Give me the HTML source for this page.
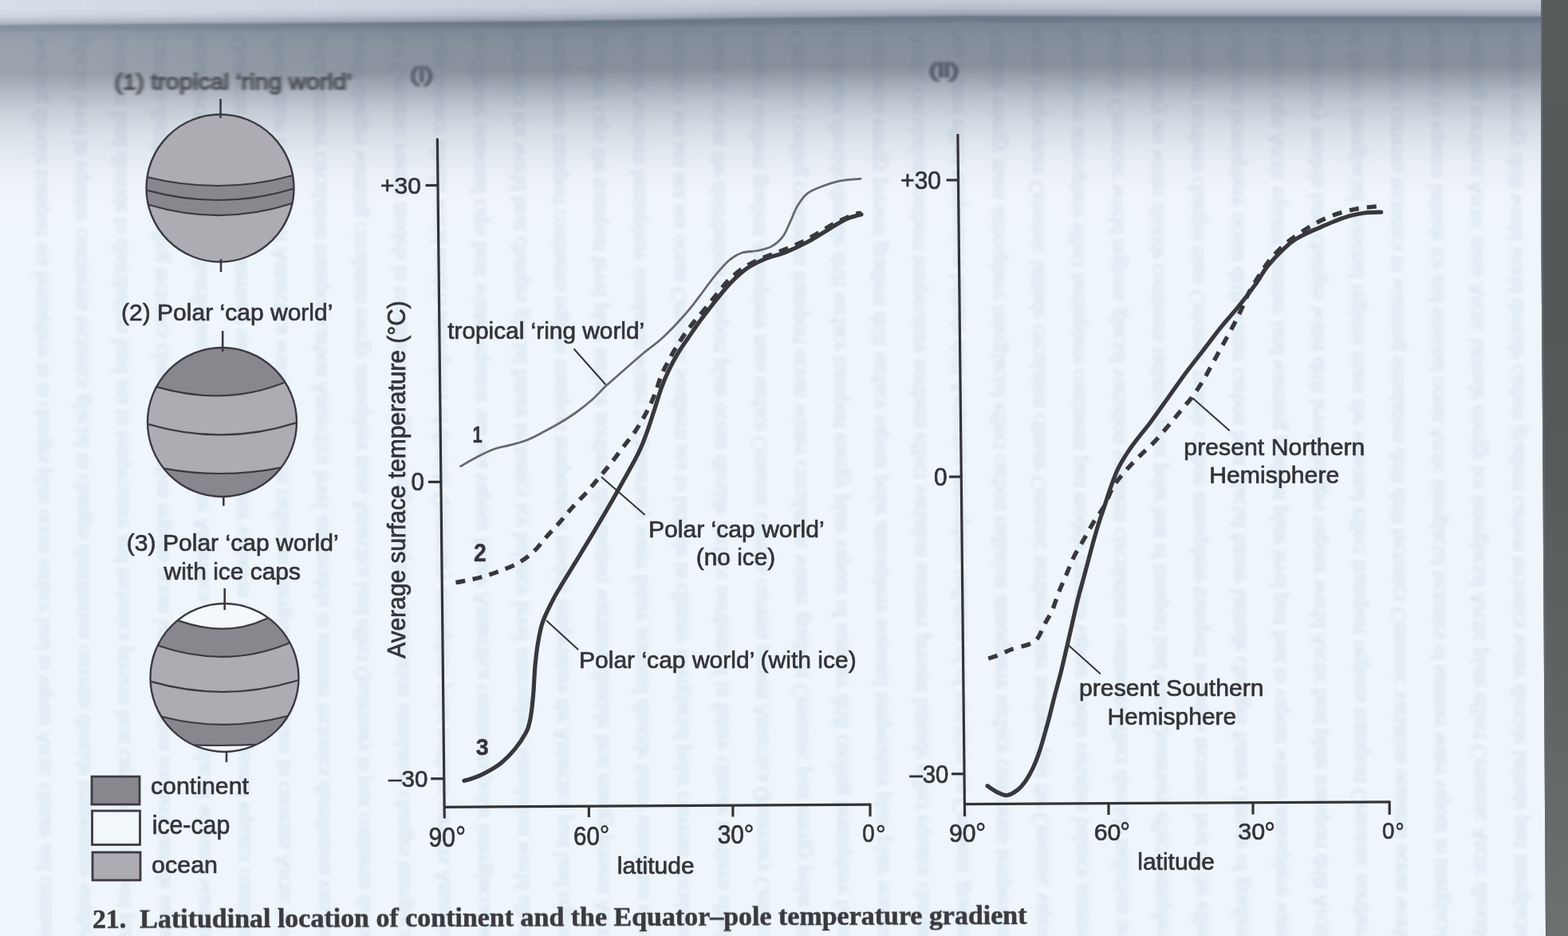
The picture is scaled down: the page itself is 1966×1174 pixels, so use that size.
<!DOCTYPE html>
<html><head><meta charset="utf-8"><title>Latitudinal location of continent and the Equator-pole temperature gradient</title>
<style>html,body{margin:0;padding:0;width:1966px;height:1174px;overflow:hidden;background:#eff6fb}svg{display:block}</style>
</head><body>
<svg width="1966" height="1174" viewBox="0 0 1966 1174">
<defs>
<filter id="bleedblur" x="-50%" y="-5%" width="200%" height="110%"><feGaussianBlur stdDeviation="2.0"/></filter>
<filter id="blur1" x="-5%" y="-30%" width="110%" height="160%"><feGaussianBlur stdDeviation="2.0 0.9"/></filter>
<filter id="blur2" x="-20%" y="-30%" width="140%" height="160%"><feGaussianBlur stdDeviation="1.6"/></filter>
<linearGradient id="band" x1="0" y1="0" x2="0" y2="280" gradientUnits="userSpaceOnUse">
 <stop offset="0" stop-color="#c4ccd8"/>
 <stop offset="0.035" stop-color="#b6bece"/>
 <stop offset="0.062" stop-color="#9aa2b2"/>
 <stop offset="0.075" stop-color="#6c7688"/>
 <stop offset="0.090" stop-color="#6e7a8a"/>
 <stop offset="0.11" stop-color="#7c8696"/>
 <stop offset="0.16" stop-color="#848e9a"/>
 <stop offset="0.29" stop-color="#88909c"/>
 <stop offset="0.343" stop-color="#9aa2ae"/>
 <stop offset="0.393" stop-color="#abb3bf"/>
 <stop offset="0.446" stop-color="#bcc4ce"/>
 <stop offset="0.55" stop-color="#d2dae3"/>
 <stop offset="0.65" stop-color="#e0e7ee"/>
 <stop offset="0.74" stop-color="#e9eff5"/>
 <stop offset="0.85" stop-color="#eef4f9"/>
 <stop offset="1" stop-color="#eff6fb" stop-opacity="0"/>
</linearGradient>
<linearGradient id="strip" x1="0" y1="0" x2="0" y2="1174" gradientUnits="userSpaceOnUse">
 <stop offset="0" stop-color="#575b5b"/>
 <stop offset="0.3" stop-color="#525656"/>
 <stop offset="0.5" stop-color="#555a5a"/>
 <stop offset="0.8" stop-color="#616666"/>
 <stop offset="1" stop-color="#6c7070"/>
</linearGradient>
<linearGradient id="leftlight" x1="0" y1="0" x2="650" y2="0" gradientUnits="userSpaceOnUse">
 <stop offset="0" stop-color="#f2f7fc" stop-opacity="0.2"/>
 <stop offset="0.35" stop-color="#f2f7fc" stop-opacity="0.12"/>
 <stop offset="0.75" stop-color="#f2f7fc" stop-opacity="0.04"/>
 <stop offset="1" stop-color="#f2f7fc" stop-opacity="0"/>
</linearGradient>
<linearGradient id="topleft" x1="0" y1="0" x2="1000" y2="0" gradientUnits="userSpaceOnUse">
 <stop offset="0" stop-color="#eef4fc" stop-opacity="0.3"/>
 <stop offset="0.3" stop-color="#eef4fc" stop-opacity="0.22"/>
 <stop offset="0.6" stop-color="#eef4fc" stop-opacity="0.1"/>
 <stop offset="1" stop-color="#eef4fc" stop-opacity="0"/>
</linearGradient>
<linearGradient id="topfadeg" x1="0" y1="-60" x2="0" y2="21" gradientUnits="userSpaceOnUse">
 <stop offset="0" stop-color="#fff"/>
 <stop offset="0.8" stop-color="#fff"/>
 <stop offset="1" stop-color="#000"/>
</linearGradient>
<mask id="topfade" maskUnits="userSpaceOnUse" x="-60" y="-70" width="1200" height="100"><rect x="-60" y="-70" width="1200" height="100" fill="url(#topfadeg)"/></mask>
<clipPath id="bleedclip"><rect x="0" y="0" width="1928" height="1174"/></clipPath>
<clipPath id="g1"><circle cx="276" cy="236" r="92.5"/></clipPath>
<clipPath id="g2"><circle cx="278.5" cy="529.5" r="93.5"/></clipPath>
<clipPath id="g3"><circle cx="281.5" cy="850" r="93"/></clipPath>
</defs>
<rect x="0" y="0" width="1966" height="1174" fill="#eff6fb"/>
<g>
<g transform="translate(0 11.94)" shape-rendering="crispEdges"><rect x="0" y="-60" width="12" height="340" fill="url(#band)"/><rect x="0" y="-60" width="12" height="60" fill="#c4ccd8"/></g>
<g transform="translate(0 11.82)" shape-rendering="crispEdges"><rect x="12" y="-60" width="12" height="340" fill="url(#band)"/><rect x="12" y="-60" width="12" height="60" fill="#c4ccd8"/></g>
<g transform="translate(0 11.70)" shape-rendering="crispEdges"><rect x="24" y="-60" width="12" height="340" fill="url(#band)"/><rect x="24" y="-60" width="12" height="60" fill="#c4ccd8"/></g>
<g transform="translate(0 11.58)" shape-rendering="crispEdges"><rect x="36" y="-60" width="12" height="340" fill="url(#band)"/><rect x="36" y="-60" width="12" height="60" fill="#c4ccd8"/></g>
<g transform="translate(0 11.46)" shape-rendering="crispEdges"><rect x="48" y="-60" width="12" height="340" fill="url(#band)"/><rect x="48" y="-60" width="12" height="60" fill="#c4ccd8"/></g>
<g transform="translate(0 11.34)" shape-rendering="crispEdges"><rect x="60" y="-60" width="12" height="340" fill="url(#band)"/><rect x="60" y="-60" width="12" height="60" fill="#c4ccd8"/></g>
<g transform="translate(0 11.22)" shape-rendering="crispEdges"><rect x="72" y="-60" width="12" height="340" fill="url(#band)"/><rect x="72" y="-60" width="12" height="60" fill="#c4ccd8"/></g>
<g transform="translate(0 11.10)" shape-rendering="crispEdges"><rect x="84" y="-60" width="12" height="340" fill="url(#band)"/><rect x="84" y="-60" width="12" height="60" fill="#c4ccd8"/></g>
<g transform="translate(0 10.99)" shape-rendering="crispEdges"><rect x="96" y="-60" width="12" height="340" fill="url(#band)"/><rect x="96" y="-60" width="12" height="60" fill="#c4ccd8"/></g>
<g transform="translate(0 10.93)" shape-rendering="crispEdges"><rect x="108" y="-60" width="12" height="340" fill="url(#band)"/><rect x="108" y="-60" width="12" height="60" fill="#c4ccd8"/></g>
<g transform="translate(0 10.87)" shape-rendering="crispEdges"><rect x="120" y="-60" width="12" height="340" fill="url(#band)"/><rect x="120" y="-60" width="12" height="60" fill="#c4ccd8"/></g>
<g transform="translate(0 10.81)" shape-rendering="crispEdges"><rect x="132" y="-60" width="12" height="340" fill="url(#band)"/><rect x="132" y="-60" width="12" height="60" fill="#c4ccd8"/></g>
<g transform="translate(0 10.75)" shape-rendering="crispEdges"><rect x="144" y="-60" width="12" height="340" fill="url(#band)"/><rect x="144" y="-60" width="12" height="60" fill="#c4ccd8"/></g>
<g transform="translate(0 10.69)" shape-rendering="crispEdges"><rect x="156" y="-60" width="12" height="340" fill="url(#band)"/><rect x="156" y="-60" width="12" height="60" fill="#c4ccd8"/></g>
<g transform="translate(0 10.63)" shape-rendering="crispEdges"><rect x="168" y="-60" width="12" height="340" fill="url(#band)"/><rect x="168" y="-60" width="12" height="60" fill="#c4ccd8"/></g>
<g transform="translate(0 10.57)" shape-rendering="crispEdges"><rect x="180" y="-60" width="12" height="340" fill="url(#band)"/><rect x="180" y="-60" width="12" height="60" fill="#c4ccd8"/></g>
<g transform="translate(0 10.51)" shape-rendering="crispEdges"><rect x="192" y="-60" width="12" height="340" fill="url(#band)"/><rect x="192" y="-60" width="12" height="60" fill="#c4ccd8"/></g>
<g transform="translate(0 10.45)" shape-rendering="crispEdges"><rect x="204" y="-60" width="12" height="340" fill="url(#band)"/><rect x="204" y="-60" width="12" height="60" fill="#c4ccd8"/></g>
<g transform="translate(0 10.39)" shape-rendering="crispEdges"><rect x="216" y="-60" width="12" height="340" fill="url(#band)"/><rect x="216" y="-60" width="12" height="60" fill="#c4ccd8"/></g>
<g transform="translate(0 10.33)" shape-rendering="crispEdges"><rect x="228" y="-60" width="12" height="340" fill="url(#band)"/><rect x="228" y="-60" width="12" height="60" fill="#c4ccd8"/></g>
<g transform="translate(0 10.27)" shape-rendering="crispEdges"><rect x="240" y="-60" width="12" height="340" fill="url(#band)"/><rect x="240" y="-60" width="12" height="60" fill="#c4ccd8"/></g>
<g transform="translate(0 10.21)" shape-rendering="crispEdges"><rect x="252" y="-60" width="12" height="340" fill="url(#band)"/><rect x="252" y="-60" width="12" height="60" fill="#c4ccd8"/></g>
<g transform="translate(0 10.15)" shape-rendering="crispEdges"><rect x="264" y="-60" width="12" height="340" fill="url(#band)"/><rect x="264" y="-60" width="12" height="60" fill="#c4ccd8"/></g>
<g transform="translate(0 10.09)" shape-rendering="crispEdges"><rect x="276" y="-60" width="12" height="340" fill="url(#band)"/><rect x="276" y="-60" width="12" height="60" fill="#c4ccd8"/></g>
<g transform="translate(0 10.03)" shape-rendering="crispEdges"><rect x="288" y="-60" width="12" height="340" fill="url(#band)"/><rect x="288" y="-60" width="12" height="60" fill="#c4ccd8"/></g>
<g transform="translate(0 9.95)" shape-rendering="crispEdges"><rect x="300" y="-60" width="12" height="340" fill="url(#band)"/><rect x="300" y="-60" width="12" height="60" fill="#c4ccd8"/></g>
<g transform="translate(0 9.86)" shape-rendering="crispEdges"><rect x="312" y="-60" width="12" height="340" fill="url(#band)"/><rect x="312" y="-60" width="12" height="60" fill="#c4ccd8"/></g>
<g transform="translate(0 9.77)" shape-rendering="crispEdges"><rect x="324" y="-60" width="12" height="340" fill="url(#band)"/><rect x="324" y="-60" width="12" height="60" fill="#c4ccd8"/></g>
<g transform="translate(0 9.68)" shape-rendering="crispEdges"><rect x="336" y="-60" width="12" height="340" fill="url(#band)"/><rect x="336" y="-60" width="12" height="60" fill="#c4ccd8"/></g>
<g transform="translate(0 9.59)" shape-rendering="crispEdges"><rect x="348" y="-60" width="12" height="340" fill="url(#band)"/><rect x="348" y="-60" width="12" height="60" fill="#c4ccd8"/></g>
<g transform="translate(0 9.50)" shape-rendering="crispEdges"><rect x="360" y="-60" width="12" height="340" fill="url(#band)"/><rect x="360" y="-60" width="12" height="60" fill="#c4ccd8"/></g>
<g transform="translate(0 9.41)" shape-rendering="crispEdges"><rect x="372" y="-60" width="12" height="340" fill="url(#band)"/><rect x="372" y="-60" width="12" height="60" fill="#c4ccd8"/></g>
<g transform="translate(0 9.32)" shape-rendering="crispEdges"><rect x="384" y="-60" width="12" height="340" fill="url(#band)"/><rect x="384" y="-60" width="12" height="60" fill="#c4ccd8"/></g>
<g transform="translate(0 9.23)" shape-rendering="crispEdges"><rect x="396" y="-60" width="12" height="340" fill="url(#band)"/><rect x="396" y="-60" width="12" height="60" fill="#c4ccd8"/></g>
<g transform="translate(0 9.14)" shape-rendering="crispEdges"><rect x="408" y="-60" width="12" height="340" fill="url(#band)"/><rect x="408" y="-60" width="12" height="60" fill="#c4ccd8"/></g>
<g transform="translate(0 9.05)" shape-rendering="crispEdges"><rect x="420" y="-60" width="12" height="340" fill="url(#band)"/><rect x="420" y="-60" width="12" height="60" fill="#c4ccd8"/></g>
<g transform="translate(0 8.96)" shape-rendering="crispEdges"><rect x="432" y="-60" width="12" height="340" fill="url(#band)"/><rect x="432" y="-60" width="12" height="60" fill="#c4ccd8"/></g>
<g transform="translate(0 8.88)" shape-rendering="crispEdges"><rect x="444" y="-60" width="12" height="340" fill="url(#band)"/><rect x="444" y="-60" width="12" height="60" fill="#c4ccd8"/></g>
<g transform="translate(0 8.79)" shape-rendering="crispEdges"><rect x="456" y="-60" width="12" height="340" fill="url(#band)"/><rect x="456" y="-60" width="12" height="60" fill="#c4ccd8"/></g>
<g transform="translate(0 8.70)" shape-rendering="crispEdges"><rect x="468" y="-60" width="12" height="340" fill="url(#band)"/><rect x="468" y="-60" width="12" height="60" fill="#c4ccd8"/></g>
<g transform="translate(0 8.61)" shape-rendering="crispEdges"><rect x="480" y="-60" width="12" height="340" fill="url(#band)"/><rect x="480" y="-60" width="12" height="60" fill="#c4ccd8"/></g>
<g transform="translate(0 8.52)" shape-rendering="crispEdges"><rect x="492" y="-60" width="12" height="340" fill="url(#band)"/><rect x="492" y="-60" width="12" height="60" fill="#c4ccd8"/></g>
<g transform="translate(0 8.43)" shape-rendering="crispEdges"><rect x="504" y="-60" width="12" height="340" fill="url(#band)"/><rect x="504" y="-60" width="12" height="60" fill="#c4ccd8"/></g>
<g transform="translate(0 8.34)" shape-rendering="crispEdges"><rect x="516" y="-60" width="12" height="340" fill="url(#band)"/><rect x="516" y="-60" width="12" height="60" fill="#c4ccd8"/></g>
<g transform="translate(0 8.25)" shape-rendering="crispEdges"><rect x="528" y="-60" width="12" height="340" fill="url(#band)"/><rect x="528" y="-60" width="12" height="60" fill="#c4ccd8"/></g>
<g transform="translate(0 8.16)" shape-rendering="crispEdges"><rect x="540" y="-60" width="12" height="340" fill="url(#band)"/><rect x="540" y="-60" width="12" height="60" fill="#c4ccd8"/></g>
<g transform="translate(0 8.07)" shape-rendering="crispEdges"><rect x="552" y="-60" width="12" height="340" fill="url(#band)"/><rect x="552" y="-60" width="12" height="60" fill="#c4ccd8"/></g>
<g transform="translate(0 7.98)" shape-rendering="crispEdges"><rect x="564" y="-60" width="12" height="340" fill="url(#band)"/><rect x="564" y="-60" width="12" height="60" fill="#c4ccd8"/></g>
<g transform="translate(0 7.89)" shape-rendering="crispEdges"><rect x="576" y="-60" width="12" height="340" fill="url(#band)"/><rect x="576" y="-60" width="12" height="60" fill="#c4ccd8"/></g>
<g transform="translate(0 7.80)" shape-rendering="crispEdges"><rect x="588" y="-60" width="12" height="340" fill="url(#band)"/><rect x="588" y="-60" width="12" height="60" fill="#c4ccd8"/></g>
<g transform="translate(0 7.70)" shape-rendering="crispEdges"><rect x="600" y="-60" width="12" height="340" fill="url(#band)"/><rect x="600" y="-60" width="12" height="60" fill="#c4ccd8"/></g>
<g transform="translate(0 7.61)" shape-rendering="crispEdges"><rect x="612" y="-60" width="12" height="340" fill="url(#band)"/><rect x="612" y="-60" width="12" height="60" fill="#c4ccd8"/></g>
<g transform="translate(0 7.52)" shape-rendering="crispEdges"><rect x="624" y="-60" width="12" height="340" fill="url(#band)"/><rect x="624" y="-60" width="12" height="60" fill="#c4ccd8"/></g>
<g transform="translate(0 7.43)" shape-rendering="crispEdges"><rect x="636" y="-60" width="12" height="340" fill="url(#band)"/><rect x="636" y="-60" width="12" height="60" fill="#c4ccd8"/></g>
<g transform="translate(0 7.34)" shape-rendering="crispEdges"><rect x="648" y="-60" width="12" height="340" fill="url(#band)"/><rect x="648" y="-60" width="12" height="60" fill="#c4ccd8"/></g>
<g transform="translate(0 7.25)" shape-rendering="crispEdges"><rect x="660" y="-60" width="12" height="340" fill="url(#band)"/><rect x="660" y="-60" width="12" height="60" fill="#c4ccd8"/></g>
<g transform="translate(0 7.16)" shape-rendering="crispEdges"><rect x="672" y="-60" width="12" height="340" fill="url(#band)"/><rect x="672" y="-60" width="12" height="60" fill="#c4ccd8"/></g>
<g transform="translate(0 7.07)" shape-rendering="crispEdges"><rect x="684" y="-60" width="12" height="340" fill="url(#band)"/><rect x="684" y="-60" width="12" height="60" fill="#c4ccd8"/></g>
<g transform="translate(0 6.97)" shape-rendering="crispEdges"><rect x="696" y="-60" width="12" height="340" fill="url(#band)"/><rect x="696" y="-60" width="12" height="60" fill="#c4ccd8"/></g>
<g transform="translate(0 6.78)" shape-rendering="crispEdges"><rect x="708" y="-60" width="12" height="340" fill="url(#band)"/><rect x="708" y="-60" width="12" height="60" fill="#c4ccd8"/></g>
<g transform="translate(0 6.58)" shape-rendering="crispEdges"><rect x="720" y="-60" width="12" height="340" fill="url(#band)"/><rect x="720" y="-60" width="12" height="60" fill="#c4ccd8"/></g>
<g transform="translate(0 6.39)" shape-rendering="crispEdges"><rect x="732" y="-60" width="12" height="340" fill="url(#band)"/><rect x="732" y="-60" width="12" height="60" fill="#c4ccd8"/></g>
<g transform="translate(0 6.20)" shape-rendering="crispEdges"><rect x="744" y="-60" width="12" height="340" fill="url(#band)"/><rect x="744" y="-60" width="12" height="60" fill="#c4ccd8"/></g>
<g transform="translate(0 6.01)" shape-rendering="crispEdges"><rect x="756" y="-60" width="12" height="340" fill="url(#band)"/><rect x="756" y="-60" width="12" height="60" fill="#c4ccd8"/></g>
<g transform="translate(0 5.82)" shape-rendering="crispEdges"><rect x="768" y="-60" width="12" height="340" fill="url(#band)"/><rect x="768" y="-60" width="12" height="60" fill="#c4ccd8"/></g>
<g transform="translate(0 5.62)" shape-rendering="crispEdges"><rect x="780" y="-60" width="12" height="340" fill="url(#band)"/><rect x="780" y="-60" width="12" height="60" fill="#c4ccd8"/></g>
<g transform="translate(0 5.43)" shape-rendering="crispEdges"><rect x="792" y="-60" width="12" height="340" fill="url(#band)"/><rect x="792" y="-60" width="12" height="60" fill="#c4ccd8"/></g>
<g transform="translate(0 5.24)" shape-rendering="crispEdges"><rect x="804" y="-60" width="12" height="340" fill="url(#band)"/><rect x="804" y="-60" width="12" height="60" fill="#c4ccd8"/></g>
<g transform="translate(0 5.05)" shape-rendering="crispEdges"><rect x="816" y="-60" width="12" height="340" fill="url(#band)"/><rect x="816" y="-60" width="12" height="60" fill="#c4ccd8"/></g>
<g transform="translate(0 4.86)" shape-rendering="crispEdges"><rect x="828" y="-60" width="12" height="340" fill="url(#band)"/><rect x="828" y="-60" width="12" height="60" fill="#c4ccd8"/></g>
<g transform="translate(0 4.66)" shape-rendering="crispEdges"><rect x="840" y="-60" width="12" height="340" fill="url(#band)"/><rect x="840" y="-60" width="12" height="60" fill="#c4ccd8"/></g>
<g transform="translate(0 4.47)" shape-rendering="crispEdges"><rect x="852" y="-60" width="12" height="340" fill="url(#band)"/><rect x="852" y="-60" width="12" height="60" fill="#c4ccd8"/></g>
<g transform="translate(0 4.28)" shape-rendering="crispEdges"><rect x="864" y="-60" width="12" height="340" fill="url(#band)"/><rect x="864" y="-60" width="12" height="60" fill="#c4ccd8"/></g>
<g transform="translate(0 4.09)" shape-rendering="crispEdges"><rect x="876" y="-60" width="12" height="340" fill="url(#band)"/><rect x="876" y="-60" width="12" height="60" fill="#c4ccd8"/></g>
<g transform="translate(0 3.90)" shape-rendering="crispEdges"><rect x="888" y="-60" width="12" height="340" fill="url(#band)"/><rect x="888" y="-60" width="12" height="60" fill="#c4ccd8"/></g>
<g transform="translate(0 3.70)" shape-rendering="crispEdges"><rect x="900" y="-60" width="12" height="340" fill="url(#band)"/><rect x="900" y="-60" width="12" height="60" fill="#c4ccd8"/></g>
<g transform="translate(0 3.51)" shape-rendering="crispEdges"><rect x="912" y="-60" width="12" height="340" fill="url(#band)"/><rect x="912" y="-60" width="12" height="60" fill="#c4ccd8"/></g>
<g transform="translate(0 3.32)" shape-rendering="crispEdges"><rect x="924" y="-60" width="12" height="340" fill="url(#band)"/><rect x="924" y="-60" width="12" height="60" fill="#c4ccd8"/></g>
<g transform="translate(0 3.13)" shape-rendering="crispEdges"><rect x="936" y="-60" width="12" height="340" fill="url(#band)"/><rect x="936" y="-60" width="12" height="60" fill="#c4ccd8"/></g>
<g transform="translate(0 2.96)" shape-rendering="crispEdges"><rect x="948" y="-60" width="12" height="340" fill="url(#band)"/><rect x="948" y="-60" width="12" height="60" fill="#c4ccd8"/></g>
<g transform="translate(0 2.84)" shape-rendering="crispEdges"><rect x="960" y="-60" width="12" height="340" fill="url(#band)"/><rect x="960" y="-60" width="12" height="60" fill="#c4ccd8"/></g>
<g transform="translate(0 2.72)" shape-rendering="crispEdges"><rect x="972" y="-60" width="12" height="340" fill="url(#band)"/><rect x="972" y="-60" width="12" height="60" fill="#c4ccd8"/></g>
<g transform="translate(0 2.60)" shape-rendering="crispEdges"><rect x="984" y="-60" width="12" height="340" fill="url(#band)"/><rect x="984" y="-60" width="12" height="60" fill="#c4ccd8"/></g>
<g transform="translate(0 2.48)" shape-rendering="crispEdges"><rect x="996" y="-60" width="12" height="340" fill="url(#band)"/><rect x="996" y="-60" width="12" height="60" fill="#c4ccd8"/></g>
<g transform="translate(0 2.36)" shape-rendering="crispEdges"><rect x="1008" y="-60" width="12" height="340" fill="url(#band)"/><rect x="1008" y="-60" width="12" height="60" fill="#c4ccd8"/></g>
<g transform="translate(0 2.24)" shape-rendering="crispEdges"><rect x="1020" y="-60" width="12" height="340" fill="url(#band)"/><rect x="1020" y="-60" width="12" height="60" fill="#c4ccd8"/></g>
<g transform="translate(0 2.12)" shape-rendering="crispEdges"><rect x="1032" y="-60" width="12" height="340" fill="url(#band)"/><rect x="1032" y="-60" width="12" height="60" fill="#c4ccd8"/></g>
<g transform="translate(0 2.00)" shape-rendering="crispEdges"><rect x="1044" y="-60" width="12" height="340" fill="url(#band)"/><rect x="1044" y="-60" width="12" height="60" fill="#c4ccd8"/></g>
<g transform="translate(0 1.88)" shape-rendering="crispEdges"><rect x="1056" y="-60" width="12" height="340" fill="url(#band)"/><rect x="1056" y="-60" width="12" height="60" fill="#c4ccd8"/></g>
<g transform="translate(0 1.76)" shape-rendering="crispEdges"><rect x="1068" y="-60" width="12" height="340" fill="url(#band)"/><rect x="1068" y="-60" width="12" height="60" fill="#c4ccd8"/></g>
<g transform="translate(0 1.64)" shape-rendering="crispEdges"><rect x="1080" y="-60" width="12" height="340" fill="url(#band)"/><rect x="1080" y="-60" width="12" height="60" fill="#c4ccd8"/></g>
<g transform="translate(0 1.52)" shape-rendering="crispEdges"><rect x="1092" y="-60" width="12" height="340" fill="url(#band)"/><rect x="1092" y="-60" width="12" height="60" fill="#c4ccd8"/></g>
<g transform="translate(0 1.40)" shape-rendering="crispEdges"><rect x="1104" y="-60" width="12" height="340" fill="url(#band)"/><rect x="1104" y="-60" width="12" height="60" fill="#c4ccd8"/></g>
<g transform="translate(0 1.28)" shape-rendering="crispEdges"><rect x="1116" y="-60" width="12" height="340" fill="url(#band)"/><rect x="1116" y="-60" width="12" height="60" fill="#c4ccd8"/></g>
<g transform="translate(0 1.16)" shape-rendering="crispEdges"><rect x="1128" y="-60" width="12" height="340" fill="url(#band)"/><rect x="1128" y="-60" width="12" height="60" fill="#c4ccd8"/></g>
<g transform="translate(0 1.04)" shape-rendering="crispEdges"><rect x="1140" y="-60" width="12" height="340" fill="url(#band)"/><rect x="1140" y="-60" width="12" height="60" fill="#c4ccd8"/></g>
<g transform="translate(0 0.92)" shape-rendering="crispEdges"><rect x="1152" y="-60" width="12" height="340" fill="url(#band)"/><rect x="1152" y="-60" width="12" height="60" fill="#c4ccd8"/></g>
<g transform="translate(0 0.80)" shape-rendering="crispEdges"><rect x="1164" y="-60" width="12" height="340" fill="url(#band)"/><rect x="1164" y="-60" width="12" height="60" fill="#c4ccd8"/></g>
<g transform="translate(0 0.68)" shape-rendering="crispEdges"><rect x="1176" y="-60" width="12" height="340" fill="url(#band)"/><rect x="1176" y="-60" width="12" height="60" fill="#c4ccd8"/></g>
<g transform="translate(0 0.56)" shape-rendering="crispEdges"><rect x="1188" y="-60" width="12" height="340" fill="url(#band)"/><rect x="1188" y="-60" width="12" height="60" fill="#c4ccd8"/></g>
<g transform="translate(0 0.51)" shape-rendering="crispEdges"><rect x="1200" y="-60" width="12" height="340" fill="url(#band)"/><rect x="1200" y="-60" width="12" height="60" fill="#c4ccd8"/></g>
<g transform="translate(0 0.53)" shape-rendering="crispEdges"><rect x="1212" y="-60" width="12" height="340" fill="url(#band)"/><rect x="1212" y="-60" width="12" height="60" fill="#c4ccd8"/></g>
<g transform="translate(0 0.55)" shape-rendering="crispEdges"><rect x="1224" y="-60" width="12" height="340" fill="url(#band)"/><rect x="1224" y="-60" width="12" height="60" fill="#c4ccd8"/></g>
<g transform="translate(0 0.57)" shape-rendering="crispEdges"><rect x="1236" y="-60" width="12" height="340" fill="url(#band)"/><rect x="1236" y="-60" width="12" height="60" fill="#c4ccd8"/></g>
<g transform="translate(0 0.59)" shape-rendering="crispEdges"><rect x="1248" y="-60" width="12" height="340" fill="url(#band)"/><rect x="1248" y="-60" width="12" height="60" fill="#c4ccd8"/></g>
<g transform="translate(0 0.61)" shape-rendering="crispEdges"><rect x="1260" y="-60" width="12" height="340" fill="url(#band)"/><rect x="1260" y="-60" width="12" height="60" fill="#c4ccd8"/></g>
<g transform="translate(0 0.63)" shape-rendering="crispEdges"><rect x="1272" y="-60" width="12" height="340" fill="url(#band)"/><rect x="1272" y="-60" width="12" height="60" fill="#c4ccd8"/></g>
<g transform="translate(0 0.65)" shape-rendering="crispEdges"><rect x="1284" y="-60" width="12" height="340" fill="url(#band)"/><rect x="1284" y="-60" width="12" height="60" fill="#c4ccd8"/></g>
<g transform="translate(0 0.67)" shape-rendering="crispEdges"><rect x="1296" y="-60" width="12" height="340" fill="url(#band)"/><rect x="1296" y="-60" width="12" height="60" fill="#c4ccd8"/></g>
<g transform="translate(0 0.69)" shape-rendering="crispEdges"><rect x="1308" y="-60" width="12" height="340" fill="url(#band)"/><rect x="1308" y="-60" width="12" height="60" fill="#c4ccd8"/></g>
<g transform="translate(0 0.71)" shape-rendering="crispEdges"><rect x="1320" y="-60" width="12" height="340" fill="url(#band)"/><rect x="1320" y="-60" width="12" height="60" fill="#c4ccd8"/></g>
<g transform="translate(0 0.73)" shape-rendering="crispEdges"><rect x="1332" y="-60" width="12" height="340" fill="url(#band)"/><rect x="1332" y="-60" width="12" height="60" fill="#c4ccd8"/></g>
<g transform="translate(0 0.75)" shape-rendering="crispEdges"><rect x="1344" y="-60" width="12" height="340" fill="url(#band)"/><rect x="1344" y="-60" width="12" height="60" fill="#c4ccd8"/></g>
<g transform="translate(0 0.77)" shape-rendering="crispEdges"><rect x="1356" y="-60" width="12" height="340" fill="url(#band)"/><rect x="1356" y="-60" width="12" height="60" fill="#c4ccd8"/></g>
<g transform="translate(0 0.79)" shape-rendering="crispEdges"><rect x="1368" y="-60" width="12" height="340" fill="url(#band)"/><rect x="1368" y="-60" width="12" height="60" fill="#c4ccd8"/></g>
<g transform="translate(0 0.81)" shape-rendering="crispEdges"><rect x="1380" y="-60" width="12" height="340" fill="url(#band)"/><rect x="1380" y="-60" width="12" height="60" fill="#c4ccd8"/></g>
<g transform="translate(0 0.83)" shape-rendering="crispEdges"><rect x="1392" y="-60" width="12" height="340" fill="url(#band)"/><rect x="1392" y="-60" width="12" height="60" fill="#c4ccd8"/></g>
<g transform="translate(0 0.85)" shape-rendering="crispEdges"><rect x="1404" y="-60" width="12" height="340" fill="url(#band)"/><rect x="1404" y="-60" width="12" height="60" fill="#c4ccd8"/></g>
<g transform="translate(0 0.87)" shape-rendering="crispEdges"><rect x="1416" y="-60" width="12" height="340" fill="url(#band)"/><rect x="1416" y="-60" width="12" height="60" fill="#c4ccd8"/></g>
<g transform="translate(0 0.89)" shape-rendering="crispEdges"><rect x="1428" y="-60" width="12" height="340" fill="url(#band)"/><rect x="1428" y="-60" width="12" height="60" fill="#c4ccd8"/></g>
<g transform="translate(0 0.91)" shape-rendering="crispEdges"><rect x="1440" y="-60" width="12" height="340" fill="url(#band)"/><rect x="1440" y="-60" width="12" height="60" fill="#c4ccd8"/></g>
<g transform="translate(0 0.93)" shape-rendering="crispEdges"><rect x="1452" y="-60" width="12" height="340" fill="url(#band)"/><rect x="1452" y="-60" width="12" height="60" fill="#c4ccd8"/></g>
<g transform="translate(0 0.95)" shape-rendering="crispEdges"><rect x="1464" y="-60" width="12" height="340" fill="url(#band)"/><rect x="1464" y="-60" width="12" height="60" fill="#c4ccd8"/></g>
<g transform="translate(0 0.97)" shape-rendering="crispEdges"><rect x="1476" y="-60" width="12" height="340" fill="url(#band)"/><rect x="1476" y="-60" width="12" height="60" fill="#c4ccd8"/></g>
<g transform="translate(0 0.99)" shape-rendering="crispEdges"><rect x="1488" y="-60" width="12" height="340" fill="url(#band)"/><rect x="1488" y="-60" width="12" height="60" fill="#c4ccd8"/></g>
<g transform="translate(0 1.01)" shape-rendering="crispEdges"><rect x="1500" y="-60" width="12" height="340" fill="url(#band)"/><rect x="1500" y="-60" width="12" height="60" fill="#c4ccd8"/></g>
<g transform="translate(0 1.02)" shape-rendering="crispEdges"><rect x="1512" y="-60" width="12" height="340" fill="url(#band)"/><rect x="1512" y="-60" width="12" height="60" fill="#c4ccd8"/></g>
<g transform="translate(0 1.03)" shape-rendering="crispEdges"><rect x="1524" y="-60" width="12" height="340" fill="url(#band)"/><rect x="1524" y="-60" width="12" height="60" fill="#c4ccd8"/></g>
<g transform="translate(0 1.05)" shape-rendering="crispEdges"><rect x="1536" y="-60" width="12" height="340" fill="url(#band)"/><rect x="1536" y="-60" width="12" height="60" fill="#c4ccd8"/></g>
<g transform="translate(0 1.06)" shape-rendering="crispEdges"><rect x="1548" y="-60" width="12" height="340" fill="url(#band)"/><rect x="1548" y="-60" width="12" height="60" fill="#c4ccd8"/></g>
<g transform="translate(0 1.07)" shape-rendering="crispEdges"><rect x="1560" y="-60" width="12" height="340" fill="url(#band)"/><rect x="1560" y="-60" width="12" height="60" fill="#c4ccd8"/></g>
<g transform="translate(0 1.08)" shape-rendering="crispEdges"><rect x="1572" y="-60" width="12" height="340" fill="url(#band)"/><rect x="1572" y="-60" width="12" height="60" fill="#c4ccd8"/></g>
<g transform="translate(0 1.10)" shape-rendering="crispEdges"><rect x="1584" y="-60" width="12" height="340" fill="url(#band)"/><rect x="1584" y="-60" width="12" height="60" fill="#c4ccd8"/></g>
<g transform="translate(0 1.11)" shape-rendering="crispEdges"><rect x="1596" y="-60" width="12" height="340" fill="url(#band)"/><rect x="1596" y="-60" width="12" height="60" fill="#c4ccd8"/></g>
<g transform="translate(0 1.12)" shape-rendering="crispEdges"><rect x="1608" y="-60" width="12" height="340" fill="url(#band)"/><rect x="1608" y="-60" width="12" height="60" fill="#c4ccd8"/></g>
<g transform="translate(0 1.14)" shape-rendering="crispEdges"><rect x="1620" y="-60" width="12" height="340" fill="url(#band)"/><rect x="1620" y="-60" width="12" height="60" fill="#c4ccd8"/></g>
<g transform="translate(0 1.15)" shape-rendering="crispEdges"><rect x="1632" y="-60" width="12" height="340" fill="url(#band)"/><rect x="1632" y="-60" width="12" height="60" fill="#c4ccd8"/></g>
<g transform="translate(0 1.16)" shape-rendering="crispEdges"><rect x="1644" y="-60" width="12" height="340" fill="url(#band)"/><rect x="1644" y="-60" width="12" height="60" fill="#c4ccd8"/></g>
<g transform="translate(0 1.17)" shape-rendering="crispEdges"><rect x="1656" y="-60" width="12" height="340" fill="url(#band)"/><rect x="1656" y="-60" width="12" height="60" fill="#c4ccd8"/></g>
<g transform="translate(0 1.19)" shape-rendering="crispEdges"><rect x="1668" y="-60" width="12" height="340" fill="url(#band)"/><rect x="1668" y="-60" width="12" height="60" fill="#c4ccd8"/></g>
<g transform="translate(0 1.20)" shape-rendering="crispEdges"><rect x="1680" y="-60" width="12" height="340" fill="url(#band)"/><rect x="1680" y="-60" width="12" height="60" fill="#c4ccd8"/></g>
<g transform="translate(0 1.21)" shape-rendering="crispEdges"><rect x="1692" y="-60" width="12" height="340" fill="url(#band)"/><rect x="1692" y="-60" width="12" height="60" fill="#c4ccd8"/></g>
<g transform="translate(0 1.23)" shape-rendering="crispEdges"><rect x="1704" y="-60" width="12" height="340" fill="url(#band)"/><rect x="1704" y="-60" width="12" height="60" fill="#c4ccd8"/></g>
<g transform="translate(0 1.24)" shape-rendering="crispEdges"><rect x="1716" y="-60" width="12" height="340" fill="url(#band)"/><rect x="1716" y="-60" width="12" height="60" fill="#c4ccd8"/></g>
<g transform="translate(0 1.25)" shape-rendering="crispEdges"><rect x="1728" y="-60" width="12" height="340" fill="url(#band)"/><rect x="1728" y="-60" width="12" height="60" fill="#c4ccd8"/></g>
<g transform="translate(0 1.26)" shape-rendering="crispEdges"><rect x="1740" y="-60" width="12" height="340" fill="url(#band)"/><rect x="1740" y="-60" width="12" height="60" fill="#c4ccd8"/></g>
<g transform="translate(0 1.28)" shape-rendering="crispEdges"><rect x="1752" y="-60" width="12" height="340" fill="url(#band)"/><rect x="1752" y="-60" width="12" height="60" fill="#c4ccd8"/></g>
<g transform="translate(0 1.29)" shape-rendering="crispEdges"><rect x="1764" y="-60" width="12" height="340" fill="url(#band)"/><rect x="1764" y="-60" width="12" height="60" fill="#c4ccd8"/></g>
<g transform="translate(0 1.30)" shape-rendering="crispEdges"><rect x="1776" y="-60" width="12" height="340" fill="url(#band)"/><rect x="1776" y="-60" width="12" height="60" fill="#c4ccd8"/></g>
<g transform="translate(0 1.32)" shape-rendering="crispEdges"><rect x="1788" y="-60" width="12" height="340" fill="url(#band)"/><rect x="1788" y="-60" width="12" height="60" fill="#c4ccd8"/></g>
<g transform="translate(0 1.33)" shape-rendering="crispEdges"><rect x="1800" y="-60" width="12" height="340" fill="url(#band)"/><rect x="1800" y="-60" width="12" height="60" fill="#c4ccd8"/></g>
<g transform="translate(0 1.34)" shape-rendering="crispEdges"><rect x="1812" y="-60" width="12" height="340" fill="url(#band)"/><rect x="1812" y="-60" width="12" height="60" fill="#c4ccd8"/></g>
<g transform="translate(0 1.35)" shape-rendering="crispEdges"><rect x="1824" y="-60" width="12" height="340" fill="url(#band)"/><rect x="1824" y="-60" width="12" height="60" fill="#c4ccd8"/></g>
<g transform="translate(0 1.37)" shape-rendering="crispEdges"><rect x="1836" y="-60" width="12" height="340" fill="url(#band)"/><rect x="1836" y="-60" width="12" height="60" fill="#c4ccd8"/></g>
<g transform="translate(0 1.38)" shape-rendering="crispEdges"><rect x="1848" y="-60" width="12" height="340" fill="url(#band)"/><rect x="1848" y="-60" width="12" height="60" fill="#c4ccd8"/></g>
<g transform="translate(0 1.39)" shape-rendering="crispEdges"><rect x="1860" y="-60" width="12" height="340" fill="url(#band)"/><rect x="1860" y="-60" width="12" height="60" fill="#c4ccd8"/></g>
<g transform="translate(0 1.41)" shape-rendering="crispEdges"><rect x="1872" y="-60" width="12" height="340" fill="url(#band)"/><rect x="1872" y="-60" width="12" height="60" fill="#c4ccd8"/></g>
<g transform="translate(0 1.42)" shape-rendering="crispEdges"><rect x="1884" y="-60" width="12" height="340" fill="url(#band)"/><rect x="1884" y="-60" width="12" height="60" fill="#c4ccd8"/></g>
<g transform="translate(0 1.43)" shape-rendering="crispEdges"><rect x="1896" y="-60" width="12" height="340" fill="url(#band)"/><rect x="1896" y="-60" width="12" height="60" fill="#c4ccd8"/></g>
<g transform="translate(0 1.44)" shape-rendering="crispEdges"><rect x="1908" y="-60" width="12" height="340" fill="url(#band)"/><rect x="1908" y="-60" width="12" height="60" fill="#c4ccd8"/></g>
<g transform="translate(0 1.46)" shape-rendering="crispEdges"><rect x="1920" y="-60" width="12" height="340" fill="url(#band)"/><rect x="1920" y="-60" width="12" height="60" fill="#c4ccd8"/></g>
<g transform="translate(0 1.47)" shape-rendering="crispEdges"><rect x="1932" y="-60" width="12" height="340" fill="url(#band)"/><rect x="1932" y="-60" width="12" height="60" fill="#c4ccd8"/></g>
<g transform="translate(0 1.48)" shape-rendering="crispEdges"><rect x="1944" y="-60" width="12" height="340" fill="url(#band)"/><rect x="1944" y="-60" width="12" height="60" fill="#c4ccd8"/></g>
<g transform="translate(0 1.50)" shape-rendering="crispEdges"><rect x="1956" y="-60" width="12" height="340" fill="url(#band)"/><rect x="1956" y="-60" width="12" height="60" fill="#c4ccd8"/></g>
</g>
<rect x="0" y="0" width="650" height="240" fill="url(#leftlight)"/>
<g transform="translate(0 11.94)"><rect x="0" y="-60" width="12" height="81" fill="url(#topleft)" mask="url(#topfade)" shape-rendering="crispEdges"/></g>
<g transform="translate(0 11.82)"><rect x="12" y="-60" width="12" height="81" fill="url(#topleft)" mask="url(#topfade)" shape-rendering="crispEdges"/></g>
<g transform="translate(0 11.70)"><rect x="24" y="-60" width="12" height="81" fill="url(#topleft)" mask="url(#topfade)" shape-rendering="crispEdges"/></g>
<g transform="translate(0 11.58)"><rect x="36" y="-60" width="12" height="81" fill="url(#topleft)" mask="url(#topfade)" shape-rendering="crispEdges"/></g>
<g transform="translate(0 11.46)"><rect x="48" y="-60" width="12" height="81" fill="url(#topleft)" mask="url(#topfade)" shape-rendering="crispEdges"/></g>
<g transform="translate(0 11.34)"><rect x="60" y="-60" width="12" height="81" fill="url(#topleft)" mask="url(#topfade)" shape-rendering="crispEdges"/></g>
<g transform="translate(0 11.22)"><rect x="72" y="-60" width="12" height="81" fill="url(#topleft)" mask="url(#topfade)" shape-rendering="crispEdges"/></g>
<g transform="translate(0 11.10)"><rect x="84" y="-60" width="12" height="81" fill="url(#topleft)" mask="url(#topfade)" shape-rendering="crispEdges"/></g>
<g transform="translate(0 10.99)"><rect x="96" y="-60" width="12" height="81" fill="url(#topleft)" mask="url(#topfade)" shape-rendering="crispEdges"/></g>
<g transform="translate(0 10.93)"><rect x="108" y="-60" width="12" height="81" fill="url(#topleft)" mask="url(#topfade)" shape-rendering="crispEdges"/></g>
<g transform="translate(0 10.87)"><rect x="120" y="-60" width="12" height="81" fill="url(#topleft)" mask="url(#topfade)" shape-rendering="crispEdges"/></g>
<g transform="translate(0 10.81)"><rect x="132" y="-60" width="12" height="81" fill="url(#topleft)" mask="url(#topfade)" shape-rendering="crispEdges"/></g>
<g transform="translate(0 10.75)"><rect x="144" y="-60" width="12" height="81" fill="url(#topleft)" mask="url(#topfade)" shape-rendering="crispEdges"/></g>
<g transform="translate(0 10.69)"><rect x="156" y="-60" width="12" height="81" fill="url(#topleft)" mask="url(#topfade)" shape-rendering="crispEdges"/></g>
<g transform="translate(0 10.63)"><rect x="168" y="-60" width="12" height="81" fill="url(#topleft)" mask="url(#topfade)" shape-rendering="crispEdges"/></g>
<g transform="translate(0 10.57)"><rect x="180" y="-60" width="12" height="81" fill="url(#topleft)" mask="url(#topfade)" shape-rendering="crispEdges"/></g>
<g transform="translate(0 10.51)"><rect x="192" y="-60" width="12" height="81" fill="url(#topleft)" mask="url(#topfade)" shape-rendering="crispEdges"/></g>
<g transform="translate(0 10.45)"><rect x="204" y="-60" width="12" height="81" fill="url(#topleft)" mask="url(#topfade)" shape-rendering="crispEdges"/></g>
<g transform="translate(0 10.39)"><rect x="216" y="-60" width="12" height="81" fill="url(#topleft)" mask="url(#topfade)" shape-rendering="crispEdges"/></g>
<g transform="translate(0 10.33)"><rect x="228" y="-60" width="12" height="81" fill="url(#topleft)" mask="url(#topfade)" shape-rendering="crispEdges"/></g>
<g transform="translate(0 10.27)"><rect x="240" y="-60" width="12" height="81" fill="url(#topleft)" mask="url(#topfade)" shape-rendering="crispEdges"/></g>
<g transform="translate(0 10.21)"><rect x="252" y="-60" width="12" height="81" fill="url(#topleft)" mask="url(#topfade)" shape-rendering="crispEdges"/></g>
<g transform="translate(0 10.15)"><rect x="264" y="-60" width="12" height="81" fill="url(#topleft)" mask="url(#topfade)" shape-rendering="crispEdges"/></g>
<g transform="translate(0 10.09)"><rect x="276" y="-60" width="12" height="81" fill="url(#topleft)" mask="url(#topfade)" shape-rendering="crispEdges"/></g>
<g transform="translate(0 10.03)"><rect x="288" y="-60" width="12" height="81" fill="url(#topleft)" mask="url(#topfade)" shape-rendering="crispEdges"/></g>
<g transform="translate(0 9.95)"><rect x="300" y="-60" width="12" height="81" fill="url(#topleft)" mask="url(#topfade)" shape-rendering="crispEdges"/></g>
<g transform="translate(0 9.86)"><rect x="312" y="-60" width="12" height="81" fill="url(#topleft)" mask="url(#topfade)" shape-rendering="crispEdges"/></g>
<g transform="translate(0 9.77)"><rect x="324" y="-60" width="12" height="81" fill="url(#topleft)" mask="url(#topfade)" shape-rendering="crispEdges"/></g>
<g transform="translate(0 9.68)"><rect x="336" y="-60" width="12" height="81" fill="url(#topleft)" mask="url(#topfade)" shape-rendering="crispEdges"/></g>
<g transform="translate(0 9.59)"><rect x="348" y="-60" width="12" height="81" fill="url(#topleft)" mask="url(#topfade)" shape-rendering="crispEdges"/></g>
<g transform="translate(0 9.50)"><rect x="360" y="-60" width="12" height="81" fill="url(#topleft)" mask="url(#topfade)" shape-rendering="crispEdges"/></g>
<g transform="translate(0 9.41)"><rect x="372" y="-60" width="12" height="81" fill="url(#topleft)" mask="url(#topfade)" shape-rendering="crispEdges"/></g>
<g transform="translate(0 9.32)"><rect x="384" y="-60" width="12" height="81" fill="url(#topleft)" mask="url(#topfade)" shape-rendering="crispEdges"/></g>
<g transform="translate(0 9.23)"><rect x="396" y="-60" width="12" height="81" fill="url(#topleft)" mask="url(#topfade)" shape-rendering="crispEdges"/></g>
<g transform="translate(0 9.14)"><rect x="408" y="-60" width="12" height="81" fill="url(#topleft)" mask="url(#topfade)" shape-rendering="crispEdges"/></g>
<g transform="translate(0 9.05)"><rect x="420" y="-60" width="12" height="81" fill="url(#topleft)" mask="url(#topfade)" shape-rendering="crispEdges"/></g>
<g transform="translate(0 8.96)"><rect x="432" y="-60" width="12" height="81" fill="url(#topleft)" mask="url(#topfade)" shape-rendering="crispEdges"/></g>
<g transform="translate(0 8.88)"><rect x="444" y="-60" width="12" height="81" fill="url(#topleft)" mask="url(#topfade)" shape-rendering="crispEdges"/></g>
<g transform="translate(0 8.79)"><rect x="456" y="-60" width="12" height="81" fill="url(#topleft)" mask="url(#topfade)" shape-rendering="crispEdges"/></g>
<g transform="translate(0 8.70)"><rect x="468" y="-60" width="12" height="81" fill="url(#topleft)" mask="url(#topfade)" shape-rendering="crispEdges"/></g>
<g transform="translate(0 8.61)"><rect x="480" y="-60" width="12" height="81" fill="url(#topleft)" mask="url(#topfade)" shape-rendering="crispEdges"/></g>
<g transform="translate(0 8.52)"><rect x="492" y="-60" width="12" height="81" fill="url(#topleft)" mask="url(#topfade)" shape-rendering="crispEdges"/></g>
<g transform="translate(0 8.43)"><rect x="504" y="-60" width="12" height="81" fill="url(#topleft)" mask="url(#topfade)" shape-rendering="crispEdges"/></g>
<g transform="translate(0 8.34)"><rect x="516" y="-60" width="12" height="81" fill="url(#topleft)" mask="url(#topfade)" shape-rendering="crispEdges"/></g>
<g transform="translate(0 8.25)"><rect x="528" y="-60" width="12" height="81" fill="url(#topleft)" mask="url(#topfade)" shape-rendering="crispEdges"/></g>
<g transform="translate(0 8.16)"><rect x="540" y="-60" width="12" height="81" fill="url(#topleft)" mask="url(#topfade)" shape-rendering="crispEdges"/></g>
<g transform="translate(0 8.07)"><rect x="552" y="-60" width="12" height="81" fill="url(#topleft)" mask="url(#topfade)" shape-rendering="crispEdges"/></g>
<g transform="translate(0 7.98)"><rect x="564" y="-60" width="12" height="81" fill="url(#topleft)" mask="url(#topfade)" shape-rendering="crispEdges"/></g>
<g transform="translate(0 7.89)"><rect x="576" y="-60" width="12" height="81" fill="url(#topleft)" mask="url(#topfade)" shape-rendering="crispEdges"/></g>
<g transform="translate(0 7.80)"><rect x="588" y="-60" width="12" height="81" fill="url(#topleft)" mask="url(#topfade)" shape-rendering="crispEdges"/></g>
<g transform="translate(0 7.70)"><rect x="600" y="-60" width="12" height="81" fill="url(#topleft)" mask="url(#topfade)" shape-rendering="crispEdges"/></g>
<g transform="translate(0 7.61)"><rect x="612" y="-60" width="12" height="81" fill="url(#topleft)" mask="url(#topfade)" shape-rendering="crispEdges"/></g>
<g transform="translate(0 7.52)"><rect x="624" y="-60" width="12" height="81" fill="url(#topleft)" mask="url(#topfade)" shape-rendering="crispEdges"/></g>
<g transform="translate(0 7.43)"><rect x="636" y="-60" width="12" height="81" fill="url(#topleft)" mask="url(#topfade)" shape-rendering="crispEdges"/></g>
<g transform="translate(0 7.34)"><rect x="648" y="-60" width="12" height="81" fill="url(#topleft)" mask="url(#topfade)" shape-rendering="crispEdges"/></g>
<g transform="translate(0 7.25)"><rect x="660" y="-60" width="12" height="81" fill="url(#topleft)" mask="url(#topfade)" shape-rendering="crispEdges"/></g>
<g transform="translate(0 7.16)"><rect x="672" y="-60" width="12" height="81" fill="url(#topleft)" mask="url(#topfade)" shape-rendering="crispEdges"/></g>
<g transform="translate(0 7.07)"><rect x="684" y="-60" width="12" height="81" fill="url(#topleft)" mask="url(#topfade)" shape-rendering="crispEdges"/></g>
<g transform="translate(0 6.97)"><rect x="696" y="-60" width="12" height="81" fill="url(#topleft)" mask="url(#topfade)" shape-rendering="crispEdges"/></g>
<g transform="translate(0 6.78)"><rect x="708" y="-60" width="12" height="81" fill="url(#topleft)" mask="url(#topfade)" shape-rendering="crispEdges"/></g>
<g transform="translate(0 6.58)"><rect x="720" y="-60" width="12" height="81" fill="url(#topleft)" mask="url(#topfade)" shape-rendering="crispEdges"/></g>
<g transform="translate(0 6.39)"><rect x="732" y="-60" width="12" height="81" fill="url(#topleft)" mask="url(#topfade)" shape-rendering="crispEdges"/></g>
<g transform="translate(0 6.20)"><rect x="744" y="-60" width="12" height="81" fill="url(#topleft)" mask="url(#topfade)" shape-rendering="crispEdges"/></g>
<g transform="translate(0 6.01)"><rect x="756" y="-60" width="12" height="81" fill="url(#topleft)" mask="url(#topfade)" shape-rendering="crispEdges"/></g>
<g transform="translate(0 5.82)"><rect x="768" y="-60" width="12" height="81" fill="url(#topleft)" mask="url(#topfade)" shape-rendering="crispEdges"/></g>
<g transform="translate(0 5.62)"><rect x="780" y="-60" width="12" height="81" fill="url(#topleft)" mask="url(#topfade)" shape-rendering="crispEdges"/></g>
<g transform="translate(0 5.43)"><rect x="792" y="-60" width="12" height="81" fill="url(#topleft)" mask="url(#topfade)" shape-rendering="crispEdges"/></g>
<g transform="translate(0 5.24)"><rect x="804" y="-60" width="12" height="81" fill="url(#topleft)" mask="url(#topfade)" shape-rendering="crispEdges"/></g>
<g transform="translate(0 5.05)"><rect x="816" y="-60" width="12" height="81" fill="url(#topleft)" mask="url(#topfade)" shape-rendering="crispEdges"/></g>
<g transform="translate(0 4.86)"><rect x="828" y="-60" width="12" height="81" fill="url(#topleft)" mask="url(#topfade)" shape-rendering="crispEdges"/></g>
<g transform="translate(0 4.66)"><rect x="840" y="-60" width="12" height="81" fill="url(#topleft)" mask="url(#topfade)" shape-rendering="crispEdges"/></g>
<g transform="translate(0 4.47)"><rect x="852" y="-60" width="12" height="81" fill="url(#topleft)" mask="url(#topfade)" shape-rendering="crispEdges"/></g>
<g transform="translate(0 4.28)"><rect x="864" y="-60" width="12" height="81" fill="url(#topleft)" mask="url(#topfade)" shape-rendering="crispEdges"/></g>
<g transform="translate(0 4.09)"><rect x="876" y="-60" width="12" height="81" fill="url(#topleft)" mask="url(#topfade)" shape-rendering="crispEdges"/></g>
<g transform="translate(0 3.90)"><rect x="888" y="-60" width="12" height="81" fill="url(#topleft)" mask="url(#topfade)" shape-rendering="crispEdges"/></g>
<g transform="translate(0 3.70)"><rect x="900" y="-60" width="12" height="81" fill="url(#topleft)" mask="url(#topfade)" shape-rendering="crispEdges"/></g>
<g transform="translate(0 3.51)"><rect x="912" y="-60" width="12" height="81" fill="url(#topleft)" mask="url(#topfade)" shape-rendering="crispEdges"/></g>
<g transform="translate(0 3.32)"><rect x="924" y="-60" width="12" height="81" fill="url(#topleft)" mask="url(#topfade)" shape-rendering="crispEdges"/></g>
<g transform="translate(0 3.13)"><rect x="936" y="-60" width="12" height="81" fill="url(#topleft)" mask="url(#topfade)" shape-rendering="crispEdges"/></g>
<g transform="translate(0 2.96)"><rect x="948" y="-60" width="12" height="81" fill="url(#topleft)" mask="url(#topfade)" shape-rendering="crispEdges"/></g>
<g transform="translate(0 2.84)"><rect x="960" y="-60" width="12" height="81" fill="url(#topleft)" mask="url(#topfade)" shape-rendering="crispEdges"/></g>
<g transform="translate(0 2.72)"><rect x="972" y="-60" width="12" height="81" fill="url(#topleft)" mask="url(#topfade)" shape-rendering="crispEdges"/></g>
<g transform="translate(0 2.60)"><rect x="984" y="-60" width="12" height="81" fill="url(#topleft)" mask="url(#topfade)" shape-rendering="crispEdges"/></g>
<g transform="translate(0 2.48)"><rect x="996" y="-60" width="12" height="81" fill="url(#topleft)" mask="url(#topfade)" shape-rendering="crispEdges"/></g>
<g transform="translate(0 2.36)"><rect x="1008" y="-60" width="12" height="81" fill="url(#topleft)" mask="url(#topfade)" shape-rendering="crispEdges"/></g>
<g transform="translate(0 2.24)"><rect x="1020" y="-60" width="12" height="81" fill="url(#topleft)" mask="url(#topfade)" shape-rendering="crispEdges"/></g>
<g transform="translate(0 2.12)"><rect x="1032" y="-60" width="12" height="81" fill="url(#topleft)" mask="url(#topfade)" shape-rendering="crispEdges"/></g>
<g transform="translate(0 2.00)"><rect x="1044" y="-60" width="12" height="81" fill="url(#topleft)" mask="url(#topfade)" shape-rendering="crispEdges"/></g>
<g fill="#e0e7f0" style="mix-blend-mode:multiply" clip-path="url(#bleedclip)" filter="url(#bleedblur)" font-family="'Liberation Serif', serif" font-size="27"><g transform="rotate(-0.35 983 612)">
<text transform="translate(54.5 40) rotate(90) scale(1 -1)" x="0" y="0" textLength="1150" lengthAdjust="spacingAndGlyphs" dominant-baseline="middle">warming dioxide transport sea hemisphere to in changes plate ocean surface land to vapour Arctic climate and continents</text>
<text transform="translate(104.5 40) rotate(90) scale(1 -1)" x="0" y="0" textLength="1150" lengthAdjust="spacingAndGlyphs" dominant-baseline="middle">glacial level in equator continents tectonics glacial to changes distribution currents dioxide temperature southern</text>
<text transform="translate(154.5 40) rotate(90) scale(1 -1)" x="0" y="0" textLength="1150" lengthAdjust="spacingAndGlyphs" dominant-baseline="middle">southern land dioxide to distribution land sea to temperature and tectonics present heat caps level transport plate</text>
<text transform="translate(204.5 40) rotate(90) scale(1 -1)" x="0" y="0" textLength="1150" lengthAdjust="spacingAndGlyphs" dominant-baseline="middle">currents distribution cooling tectonics changes simulation regions ocean land distribution southern latitude surface</text>
<text transform="translate(254.5 40) rotate(90) scale(1 -1)" x="0" y="0" textLength="1150" lengthAdjust="spacingAndGlyphs" dominant-baseline="middle">ocean tectonics balance in distribution to northern climate Antarctica simulation plate glacial seasonal warming</text>
<text transform="translate(304.5 40) rotate(90) scale(1 -1)" x="0" y="0" textLength="1150" lengthAdjust="spacingAndGlyphs" dominant-baseline="middle">Quaternary land carbon Quaternary surface cooling equator variation regions energy seasonal equator continents</text>
<text transform="translate(354.5 40) rotate(90) scale(1 -1)" x="0" y="0" textLength="1150" lengthAdjust="spacingAndGlyphs" dominant-baseline="middle">distribution cooling drift Antarctica world circulation radiation interglacial caps mass in currents Arctic level</text>
<text transform="translate(404.5 40) rotate(90) scale(1 -1)" x="0" y="0" textLength="1150" lengthAdjust="spacingAndGlyphs" dominant-baseline="middle">polar summer circulation transport carbon Antarctica level and models in summer tectonics distribution variation</text>
<text transform="translate(454.5 40) rotate(90) scale(1 -1)" x="0" y="0" textLength="1150" lengthAdjust="spacingAndGlyphs" dominant-baseline="middle">world changes warming circulation energy atmosphere mass Antarctica land effect Quaternary in past continents dioxide</text>
<text transform="translate(504.5 40) rotate(90) scale(1 -1)" x="0" y="0" textLength="1150" lengthAdjust="spacingAndGlyphs" dominant-baseline="middle">ice Cenozoic energy models in to radiation energy cooling hemisphere distribution simulation changes interglacial</text>
<text transform="translate(554.5 40) rotate(90) scale(1 -1)" x="0" y="0" textLength="1150" lengthAdjust="spacingAndGlyphs" dominant-baseline="middle">caps balance albedo world models atmosphere of dioxide Quaternary atmosphere polar northern currents Antarctica</text>
<text transform="translate(604.5 40) rotate(90) scale(1 -1)" x="0" y="0" textLength="1150" lengthAdjust="spacingAndGlyphs" dominant-baseline="middle">to climate seasonal caps heat winter equator sea sea vapour future Antarctica continents polar interglacial sea</text>
<text transform="translate(654.5 40) rotate(90) scale(1 -1)" x="0" y="0" textLength="1150" lengthAdjust="spacingAndGlyphs" dominant-baseline="middle">tectonics ice world heat changes glacial future tectonics ice balance level atmosphere simulation world albedo</text>
<text transform="translate(704.5 40) rotate(90) scale(1 -1)" x="0" y="0" textLength="1150" lengthAdjust="spacingAndGlyphs" dominant-baseline="middle">temperature transport continents regions transport temperature models temperature the Antarctica past land regions</text>
<text transform="translate(754.5 40) rotate(90) scale(1 -1)" x="0" y="0" textLength="1150" lengthAdjust="spacingAndGlyphs" dominant-baseline="middle">gradient caps the transport level plate surface northern distribution warming dioxide heat energy present Arctic</text>
<text transform="translate(804.5 40) rotate(90) scale(1 -1)" x="0" y="0" textLength="1150" lengthAdjust="spacingAndGlyphs" dominant-baseline="middle">dioxide northern hemisphere simulation winter to Quaternary water future seasonal dioxide future simulation effect</text>
<text transform="translate(854.5 40) rotate(90) scale(1 -1)" x="0" y="0" textLength="1150" lengthAdjust="spacingAndGlyphs" dominant-baseline="middle">tectonics sea sea sea sea ocean Cenozoic southern sea to latitude in climate interglacial polar currents circulation</text>
<text transform="translate(904.5 40) rotate(90) scale(1 -1)" x="0" y="0" textLength="1150" lengthAdjust="spacingAndGlyphs" dominant-baseline="middle">mass to ocean the distribution transport plate ocean dioxide surface northern of in future climate northern albedo</text>
<text transform="translate(954.5 40) rotate(90) scale(1 -1)" x="0" y="0" textLength="1150" lengthAdjust="spacingAndGlyphs" dominant-baseline="middle">transport southern gradient atmosphere mass surface Cenozoic currents currents present Antarctica Quaternary Cenozoic</text>
<text transform="translate(1004.5 40) rotate(90) scale(1 -1)" x="0" y="0" textLength="1150" lengthAdjust="spacingAndGlyphs" dominant-baseline="middle">Cenozoic cooling continents transport ocean winter circulation winter gradient Cenozoic past energy polar drift</text>
<text transform="translate(1054.5 40) rotate(90) scale(1 -1)" x="0" y="0" textLength="1150" lengthAdjust="spacingAndGlyphs" dominant-baseline="middle">of climate dioxide dioxide drift surface transport energy plate vapour of summer drift cooling hemisphere future</text>
<text transform="translate(1104.5 40) rotate(90) scale(1 -1)" x="0" y="0" textLength="1150" lengthAdjust="spacingAndGlyphs" dominant-baseline="middle">continents energy present gradient drift surface vapour polar atmosphere seasonal temperature plate plate seasonal</text>
<text transform="translate(1154.5 40) rotate(90) scale(1 -1)" x="0" y="0" textLength="1150" lengthAdjust="spacingAndGlyphs" dominant-baseline="middle">Arctic circulation southern temperature northern effect variation summer present latitude effect equator changes</text>
<text transform="translate(1204.5 40) rotate(90) scale(1 -1)" x="0" y="0" textLength="1150" lengthAdjust="spacingAndGlyphs" dominant-baseline="middle">sea winter effect temperature latitude drift Antarctica atmosphere radiation of of variation ice Cenozoic gradient</text>
<text transform="translate(1254.5 40) rotate(90) scale(1 -1)" x="0" y="0" textLength="1150" lengthAdjust="spacingAndGlyphs" dominant-baseline="middle">latitude energy mass atmosphere interglacial effect carbon radiation atmosphere surface continents temperature</text>
<text transform="translate(1304.5 40) rotate(90) scale(1 -1)" x="0" y="0" textLength="1150" lengthAdjust="spacingAndGlyphs" dominant-baseline="middle">ocean temperature Cenozoic latitude circulation climate Cenozoic northern water northern past the Cenozoic vapour</text>
<text transform="translate(1354.5 40) rotate(90) scale(1 -1)" x="0" y="0" textLength="1150" lengthAdjust="spacingAndGlyphs" dominant-baseline="middle">hemisphere atmosphere effect hemisphere continents past models currents vapour albedo variation balance summer</text>
<text transform="translate(1404.5 40) rotate(90) scale(1 -1)" x="0" y="0" textLength="1150" lengthAdjust="spacingAndGlyphs" dominant-baseline="middle">latitude Cenozoic world regions glacial variation southern circulation continents effect dioxide radiation sea</text>
<text transform="translate(1454.5 40) rotate(90) scale(1 -1)" x="0" y="0" textLength="1150" lengthAdjust="spacingAndGlyphs" dominant-baseline="middle">Quaternary sea winter dioxide continents radiation polar polar heat of transport land water Quaternary effect hemisphere</text>
<text transform="translate(1504.5 40) rotate(90) scale(1 -1)" x="0" y="0" textLength="1150" lengthAdjust="spacingAndGlyphs" dominant-baseline="middle">transport northern changes mass Cenozoic models carbon atmosphere transport tectonics tectonics heat of the effect</text>
<text transform="translate(1554.5 40) rotate(90) scale(1 -1)" x="0" y="0" textLength="1150" lengthAdjust="spacingAndGlyphs" dominant-baseline="middle">radiation hemisphere ocean drift winter carbon heat glacial future latitude changes future climate of gradient</text>
<text transform="translate(1604.5 40) rotate(90) scale(1 -1)" x="0" y="0" textLength="1150" lengthAdjust="spacingAndGlyphs" dominant-baseline="middle">climate caps Arctic equator summer land warming gradient plate level past heat to vapour winter atmosphere water</text>
<text transform="translate(1654.5 40) rotate(90) scale(1 -1)" x="0" y="0" textLength="1150" lengthAdjust="spacingAndGlyphs" dominant-baseline="middle">Quaternary models land changes water drift level changes vapour world Arctic heat plate transport drift Arctic</text>
<text transform="translate(1704.5 40) rotate(90) scale(1 -1)" x="0" y="0" textLength="1150" lengthAdjust="spacingAndGlyphs" dominant-baseline="middle">of future interglacial seasonal regions mass the seasonal effect transport regions transport Cenozoic northern</text>
<text transform="translate(1754.5 40) rotate(90) scale(1 -1)" x="0" y="0" textLength="1150" lengthAdjust="spacingAndGlyphs" dominant-baseline="middle">radiation currents tectonics to warming simulation drift drift tectonics Cenozoic variation seasonal ocean world</text>
<text transform="translate(1804.5 40) rotate(90) scale(1 -1)" x="0" y="0" textLength="1150" lengthAdjust="spacingAndGlyphs" dominant-baseline="middle">tectonics to equator latitude ice and seasonal ocean Arctic interglacial tectonics of summer water vapour in interglacial</text>
<text transform="translate(1854.5 40) rotate(90) scale(1 -1)" x="0" y="0" textLength="1150" lengthAdjust="spacingAndGlyphs" dominant-baseline="middle">warming northern Arctic mass Arctic latitude energy ice interglacial Arctic plate effect Cenozoic Arctic dioxide</text>
<text transform="translate(1904.5 40) rotate(90) scale(1 -1)" x="0" y="0" textLength="1150" lengthAdjust="spacingAndGlyphs" dominant-baseline="middle">equator energy drift world world dioxide carbon gradient carbon tectonics water dioxide latitude past interglacial</text>
</g></g>
<polygon points="1932,0 1966,0 1966,1174 1938,1174 1934,530 1932.5,320" fill="url(#strip)"/>
<polyline points="1933,0 1933.5,320 1935,530 1939,1174" fill="none" stroke="#646a70" stroke-width="2"/>
<g clip-path="url(#g1)">
<rect x="178" y="138" width="195" height="195" fill="#adacb2"/>
<path d="M125.7 207.7 L184.0 222.0 Q277.5 245.0 367.0 220.0 L424.8 203.9 L422.1 237.2 L365.0 255.5 Q277.0 283.8 187.0 257.0 L129.5 239.9 Z" fill="#88878d"/>
<path d="M159.7 216.0 L184.0 222.0 Q277.5 245.0 367.0 220.0 L391.1 213.3" fill="none" stroke="#3c3a40" stroke-width="2.2"/>
<path d="M159.9 232.0 L184.0 238.6 Q277.5 264.2 367.0 237.0 L390.9 229.7" fill="none" stroke="#3c3a40" stroke-width="2.2"/>
<path d="M163.0 249.9 L187.0 257.0 Q277.0 283.8 365.0 255.5 L388.8 247.9" fill="none" stroke="#3c3a40" stroke-width="2.2"/>
</g>
<circle cx="276.0" cy="236.0" r="92.5" fill="none" stroke="#3c3a40" stroke-width="2.4"/>
<line x1="276.5" y1="124.0" x2="276.5" y2="148.0" stroke="#3c3a40" stroke-width="2.6"/>
<line x1="277.0" y1="325.0" x2="277.0" y2="341.0" stroke="#3c3a40" stroke-width="2.6"/>
<g clip-path="url(#g2)">
<rect x="180" y="431" width="197" height="197" fill="#adacb2"/>
<path d="M139.2 468.7 L196.8 485.4 Q281.6 509.9 356.0 480.0 L411.7 457.6 L436.0 400.0 L116.8 400.0 Z" fill="#88878d"/>
<path d="M147.0 576.6 L206.0 587.6 Q278.2 601.0 353.5 586.3 L412.4 574.8 L433.5 660.0 L126.0 660.0 Z" fill="#88878d"/>
<path d="M172.8 478.5 L196.8 485.4 Q281.6 509.9 356.0 480.0 L379.2 470.7" fill="none" stroke="#3c3a40" stroke-width="2.2"/>
<path d="M161.0 524.8 L185.0 531.8 Q280.0 559.7 371.0 530.4 L394.8 522.7" fill="none" stroke="#3c3a40" stroke-width="2.2"/>
<path d="M181.4 583.0 L206.0 587.6 Q278.2 601.0 353.5 586.3 L378.0 581.5" fill="none" stroke="#3c3a40" stroke-width="2.2"/>
</g>
<circle cx="278.5" cy="529.5" r="93.5" fill="none" stroke="#3c3a40" stroke-width="2.4"/>
<line x1="279.2" y1="415.0" x2="279.2" y2="441.0" stroke="#3c3a40" stroke-width="2.6"/>
<line x1="280.3" y1="623.0" x2="280.3" y2="634.5" stroke="#3c3a40" stroke-width="2.6"/>
<g clip-path="url(#g3)">
<rect x="183" y="752" width="196" height="196" fill="#adacb2"/>
<path d="M141.5 790.3 L198.2 809.8 Q283.6 839.2 361.4 807.0 L416.8 784.1 L441.4 700.0 L118.2 700.0 Z" fill="#88878d"/>
<path d="M170.0 759.8 L226.7 779.4 Q283.9 799.2 332.4 776.7 L386.9 751.5 L412.4 700.0 L146.7 700.0 Z" fill="#f4f8fb"/>
<path d="M147.5 884.6 L205.6 899.5 Q280.6 918.7 360.0 898.2 L418.1 883.2 L440.0 990.0 L125.6 990.0 Z" fill="#88878d"/>
<path d="M186.0 932.9 L246.0 934.6 Q281.4 935.6 318.0 934.2 L378.0 931.9 L398.0 990.0 L166.0 990.0 Z" fill="#f4f8fb"/>
<path d="M203.1 771.2 L226.7 779.4 Q283.9 799.2 332.4 776.7 L355.1 766.2" fill="none" stroke="#3c3a40" stroke-width="2.2"/>
<path d="M174.6 801.7 L198.2 809.8 Q283.6 839.2 361.4 807.0 L384.5 797.4" fill="none" stroke="#3c3a40" stroke-width="2.2"/>
<path d="M164.5 847.7 L188.5 854.6 Q282.5 881.6 373.3 853.3 L397.2 845.8" fill="none" stroke="#3c3a40" stroke-width="2.2"/>
<path d="M181.4 893.3 L205.6 899.5 Q280.6 918.7 360.0 898.2 L384.2 891.9" fill="none" stroke="#3c3a40" stroke-width="2.2"/>
<path d="M221.0 933.9 L246.0 934.6 Q281.4 935.6 318.0 934.2 L343.0 933.2" fill="none" stroke="#3c3a40" stroke-width="2.2"/>
</g>
<circle cx="281.5" cy="850.0" r="93.0" fill="none" stroke="#3c3a40" stroke-width="2.4"/>
<line x1="281.7" y1="738.0" x2="281.7" y2="765.0" stroke="#3c3a40" stroke-width="2.6"/>
<line x1="284.0" y1="942.0" x2="284.0" y2="956.0" stroke="#3c3a40" stroke-width="2.6"/>
<rect x="115" y="974" width="60" height="35" fill="#88878d" stroke="#3c3a40" stroke-width="2.8"/>
<rect x="115.5" y="1017" width="60" height="42.5" fill="#f2f7fb" stroke="#3c3a40" stroke-width="2.8"/>
<rect x="116" y="1069" width="60" height="35" fill="#adacb2" stroke="#3c3a40" stroke-width="2.8"/>
<line x1="548.4" y1="173.5" x2="557.3" y2="1026.5" stroke="#333336" stroke-width="3.2"/>
<line x1="556.0" y1="1012.3" x2="1091.0" y2="1009.2" stroke="#333336" stroke-width="3.2"/>
<line x1="1091.0" y1="1007.7" x2="1091.0" y2="1024.2" stroke="#333336" stroke-width="3.2"/>
<line x1="533.6" y1="232.5" x2="548.8" y2="232.5" stroke="#333336" stroke-width="3.2"/>
<line x1="537.0" y1="604.5" x2="552.6" y2="604.5" stroke="#333336" stroke-width="3.2"/>
<line x1="540.2" y1="976.7" x2="556.6" y2="976.7" stroke="#333336" stroke-width="3.2"/>
<line x1="738.4" y1="1010.5" x2="738.4" y2="1025.0" stroke="#333336" stroke-width="3.2"/>
<line x1="918.9" y1="1009.9" x2="918.9" y2="1024.4" stroke="#333336" stroke-width="3.2"/>
<line x1="1200.9" y1="167.9" x2="1209.6" y2="1024.0" stroke="#333336" stroke-width="3.2"/>
<line x1="1208.0" y1="1008.6" x2="1742.2" y2="1005.9" stroke="#333336" stroke-width="3.2"/>
<line x1="1742.2" y1="1004.4" x2="1742.2" y2="1021.8" stroke="#333336" stroke-width="3.2"/>
<line x1="1186.6" y1="225.9" x2="1201.5" y2="225.9" stroke="#333336" stroke-width="3.2"/>
<line x1="1190.0" y1="598.0" x2="1205.5" y2="598.0" stroke="#333336" stroke-width="3.2"/>
<line x1="1193.0" y1="970.7" x2="1208.8" y2="970.7" stroke="#333336" stroke-width="3.2"/>
<line x1="1390.0" y1="1007.6" x2="1390.0" y2="1022.0" stroke="#333336" stroke-width="3.2"/>
<line x1="1571.0" y1="1006.7" x2="1571.0" y2="1021.5" stroke="#333336" stroke-width="3.2"/>
<path d="M577.6 584.8 C581.3 582.7 592.9 575.8 600.0 572.2 C607.1 568.6 613.6 565.4 620.4 563.0 C627.2 560.6 634.1 559.8 640.9 557.9 C647.7 556.0 654.5 554.5 661.3 551.8 C668.1 549.1 675.0 545.2 681.8 541.6 C688.6 538.0 695.4 534.4 702.2 530.3 C709.0 526.2 715.9 521.9 722.7 517.0 C729.5 512.1 737.0 506.1 743.1 500.7 C749.2 495.2 753.7 489.8 759.5 484.3 C765.3 478.9 770.5 474.6 778.0 468.0 C785.5 461.4 796.2 451.8 804.7 444.7 C813.2 437.6 821.5 432.0 829.0 425.3 C836.5 418.6 843.2 411.6 850.0 404.3 C856.8 397.0 861.9 391.2 869.5 381.6 C877.1 372.0 888.4 355.8 895.8 346.7 C903.2 337.6 908.0 331.9 913.7 327.0 C919.4 322.1 923.8 319.3 929.8 317.2 C935.8 315.1 943.1 315.9 949.4 314.5 C955.6 313.1 961.9 312.1 967.3 309.1 C972.7 306.1 977.7 301.7 981.6 296.6 C985.5 291.5 987.6 285.0 990.6 278.7 C993.6 272.4 995.9 265.0 999.5 259.0 C1003.1 253.0 1006.9 247.1 1012.0 242.9 C1017.1 238.7 1023.1 236.7 1030.0 234.0 C1036.9 231.3 1045.0 228.4 1053.2 226.8 C1061.4 225.2 1074.8 224.6 1079.1 224.2" fill="none" stroke="#68686f" stroke-width="2.8" stroke-linecap="round"/>
<path d="M571.5 730.5 C572.6 730.3 572.8 730.6 578.0 729.5 C583.2 728.4 595.0 726.2 603.0 724.0 C611.0 721.8 618.3 719.3 626.0 716.4 C633.7 713.5 641.8 710.6 649.0 706.5 C656.2 702.4 663.0 697.5 669.0 692.0 C675.0 686.5 679.5 679.7 685.0 673.5 C690.5 667.3 696.4 661.2 701.9 655.0 C707.4 648.8 712.4 642.2 718.0 636.0 C723.6 629.8 730.0 623.8 735.6 617.5 C741.2 611.2 746.6 604.4 751.7 598.3 C756.8 592.2 761.2 587.1 766.3 580.7 C771.3 574.3 776.8 566.9 782.0 560.0 C787.2 553.1 792.7 546.5 797.4 539.4 C802.1 532.3 806.5 524.9 810.4 517.5 C814.3 510.1 817.8 502.6 820.9 494.9 C824.0 487.2 825.8 479.1 829.0 471.4 C832.2 463.7 836.2 456.2 840.3 448.8 C844.3 441.4 848.8 433.9 853.3 426.9 C857.8 419.9 862.5 413.5 867.5 407.0 C872.5 400.5 878.2 394.5 883.5 388.0 C888.8 381.5 894.1 374.6 899.4 368.2 C904.7 361.8 909.5 355.1 915.5 349.4 C921.5 343.7 928.2 338.5 935.1 334.2 C942.0 329.9 949.1 326.7 956.6 323.4 C964.1 320.1 972.1 317.6 979.9 314.5 C987.6 311.4 995.7 308.3 1003.1 304.7 C1010.5 301.1 1017.4 297.0 1024.6 293.0 C1031.8 289.0 1038.2 284.5 1046.0 280.5 C1053.8 276.5 1065.4 271.1 1071.1 268.9 C1076.8 266.7 1078.5 267.7 1080.0 267.5" fill="none" stroke="#38383c" stroke-width="5.4" stroke-dasharray="12 9.5"/>
<path d="M582.0 979.3 C583.3 978.9 586.2 978.3 590.0 977.0 C593.8 975.7 598.2 974.6 604.5 971.4 C610.8 968.2 620.6 963.0 627.5 957.6 C634.4 952.2 640.5 945.7 645.9 939.2 C651.3 932.7 656.6 924.2 659.7 918.5 C662.8 912.8 663.1 909.3 664.3 904.7 C665.4 900.1 665.8 897.0 666.6 890.9 C667.4 884.8 668.1 877.5 668.9 867.9 C669.6 858.3 670.1 843.7 671.1 833.4 C672.1 823.1 673.1 814.7 674.6 805.9 C676.1 797.1 677.4 789.0 680.3 780.6 C683.2 772.2 688.3 762.3 691.8 755.3 C695.2 748.3 694.9 749.0 701.0 738.7 C707.1 728.4 720.2 707.4 728.7 693.4 C737.2 679.4 744.0 668.0 751.7 655.0 C759.4 642.0 766.7 629.5 774.7 615.2 C782.8 600.9 793.9 581.4 800.0 569.2 C806.1 557.0 807.7 551.2 811.2 541.8 C814.7 532.4 817.8 522.1 820.9 512.7 C824.0 503.3 826.8 493.3 829.8 485.2 C832.8 477.1 835.3 471.1 838.7 464.1 C842.1 457.1 846.0 449.8 850.0 443.1 C854.0 436.4 858.4 430.4 863.0 423.7 C867.6 417.0 872.8 409.2 877.5 402.7 C882.2 396.2 885.5 392.1 891.5 384.5 C897.5 376.9 906.4 365.2 913.7 357.4 C921.0 349.6 927.7 343.1 935.1 337.7 C942.5 332.3 950.0 328.8 958.4 325.2 C966.8 321.6 976.3 319.9 985.2 316.3 C994.1 312.7 1003.0 308.6 1012.0 303.8 C1021.0 299.0 1030.8 292.5 1038.9 287.7 C1047.0 282.9 1053.6 278.2 1060.4 275.1 C1067.2 272.0 1076.7 269.9 1080.0 268.9" fill="none" stroke="#38383c" stroke-width="5.2" stroke-linecap="round"/>
<path d="M1238.1 985.8 C1240.0 987.0 1245.7 991.3 1249.8 993.3 C1253.9 995.2 1258.3 997.9 1262.6 997.5 C1266.9 997.1 1271.5 994.1 1275.4 991.1 C1279.3 988.1 1282.6 984.2 1286.0 979.4 C1289.4 974.6 1292.8 968.4 1295.6 962.4 C1298.4 956.4 1300.8 950.0 1303.1 943.2 C1305.4 936.5 1307.4 929.4 1309.5 921.9 C1311.6 914.4 1313.8 906.7 1315.9 898.5 C1318.0 890.3 1320.0 881.8 1322.3 872.9 C1324.6 864.0 1327.2 855.1 1329.7 845.2 C1332.2 835.3 1334.9 823.2 1337.2 813.3 C1339.5 803.4 1341.3 795.6 1343.6 785.6 C1345.9 775.6 1348.4 763.8 1351.1 753.0 C1353.8 742.2 1356.8 731.8 1359.7 721.1 C1362.6 710.5 1365.4 699.4 1368.2 689.1 C1371.0 678.8 1373.9 668.5 1376.7 659.3 C1379.5 650.1 1382.4 642.2 1385.2 633.7 C1388.0 625.2 1390.9 616.0 1393.7 608.2 C1396.5 600.4 1398.8 594.0 1402.3 586.9 C1405.8 579.8 1410.7 572.1 1415.0 565.6 C1419.3 559.1 1423.5 553.9 1428.0 548.0 C1432.5 542.1 1436.0 538.4 1442.1 530.3 C1448.1 522.2 1456.9 509.6 1464.3 499.3 C1471.7 489.0 1479.0 478.3 1486.4 468.3 C1493.8 458.3 1501.2 449.1 1508.6 439.5 C1516.0 429.9 1523.3 419.9 1530.7 410.7 C1538.1 401.5 1545.5 393.6 1552.9 384.4 C1560.3 375.2 1568.8 364.0 1575.0 355.4 C1581.2 346.8 1582.9 341.4 1590.0 333.0 C1597.1 324.6 1609.8 311.6 1617.5 305.0 C1625.2 298.4 1630.0 297.0 1636.2 293.7 C1642.5 290.4 1648.8 288.0 1655.0 285.3 C1661.2 282.6 1667.5 279.7 1673.7 277.3 C1680.0 274.9 1686.2 272.5 1692.5 270.8 C1698.8 269.1 1704.7 267.8 1711.2 267.0 C1717.8 266.2 1728.4 266.2 1731.8 266.1" fill="none" stroke="#38383c" stroke-width="5.2" stroke-linecap="round"/>
<path d="M1239.2 826.0 C1241.3 825.3 1247.0 823.8 1252.0 821.8 C1257.0 819.8 1262.6 816.6 1269.0 814.3 C1275.4 812.0 1285.0 810.2 1290.3 807.9 C1295.6 805.6 1297.8 804.6 1301.0 800.5 C1304.2 796.4 1306.5 789.2 1309.5 783.4 C1312.5 777.6 1316.2 772.6 1319.2 765.8 C1322.2 759.0 1324.7 750.0 1327.7 742.4 C1330.7 734.8 1334.1 727.5 1337.3 720.0 C1340.5 712.5 1343.2 705.1 1346.9 697.6 C1350.6 690.1 1355.5 682.8 1359.7 675.3 C1364.0 667.8 1368.2 659.8 1372.4 652.9 C1376.7 646.0 1381.3 640.8 1385.2 633.7 C1389.1 626.6 1391.6 617.4 1395.9 610.3 C1400.2 603.2 1405.5 597.3 1410.8 591.1 C1416.1 584.9 1421.8 579.0 1427.8 573.0 C1433.8 567.0 1440.7 561.2 1446.8 554.8 C1452.9 548.4 1458.8 541.3 1464.3 534.8 C1469.8 528.3 1474.6 522.3 1479.8 516.0 C1485.0 509.7 1490.5 503.6 1495.3 497.1 C1500.1 490.6 1504.3 484.2 1508.6 477.2 C1512.8 470.2 1516.7 462.4 1520.8 455.0 C1524.9 447.6 1529.0 440.3 1533.0 432.9 C1537.0 425.5 1541.2 418.1 1545.1 410.7 C1549.0 403.3 1552.7 396.0 1556.2 388.6 C1559.7 381.2 1562.3 373.8 1566.2 366.4 C1570.1 359.0 1575.0 351.2 1579.5 344.3 C1584.0 337.4 1587.9 331.0 1593.1 324.7 C1598.3 318.4 1604.7 311.9 1610.9 306.4 C1617.2 300.9 1623.7 296.5 1630.6 291.9 C1637.5 287.3 1644.8 282.5 1652.2 278.7 C1659.6 274.9 1666.9 271.6 1674.7 268.9 C1682.5 266.2 1690.9 263.9 1699.0 262.3 C1707.1 260.7 1718.2 259.7 1723.4 259.1 C1728.6 258.5 1728.9 258.9 1730.0 258.9" fill="none" stroke="#38383c" stroke-width="5.4" stroke-dasharray="12 10"/>
<line x1="719.5" y1="437.5" x2="759.5" y2="482.5" stroke="#333336" stroke-width="2.0"/>
<line x1="754.0" y1="598.3" x2="808.6" y2="645.8" stroke="#333336" stroke-width="2.0"/>
<line x1="685.0" y1="778.3" x2="725.2" y2="815.1" stroke="#333336" stroke-width="2.0"/>
<line x1="1495.3" y1="499.3" x2="1541.8" y2="540.3" stroke="#333336" stroke-width="2.0"/>
<line x1="1339.3" y1="809.0" x2="1379.8" y2="845.2" stroke="#333336" stroke-width="2.0"/>
<text x="143.6" y="111.5" font-family="'Liberation Sans', Arial, sans-serif" font-weight="normal" font-size="28.0" fill="#4a4d52" textLength="297.7" lengthAdjust="spacingAndGlyphs" stroke="#4a4d52" stroke-width="1.40" filter="url(#blur1)">(1) tropical ‘ring world’</text>
<text x="152.0" y="401.8" font-family="'Liberation Sans', Arial, sans-serif" font-weight="normal" font-size="30.0" fill="#333338" textLength="265.4" lengthAdjust="spacingAndGlyphs" stroke="#333338" stroke-width="0.70">(2) Polar ‘cap world’</text>
<text x="158.8" y="691.2" font-family="'Liberation Sans', Arial, sans-serif" font-weight="normal" font-size="30.0" fill="#333338" textLength="265.8" lengthAdjust="spacingAndGlyphs" stroke="#333338" stroke-width="0.70">(3) Polar ‘cap world’</text>
<text x="205.6" y="727.0" font-family="'Liberation Sans', Arial, sans-serif" font-weight="normal" font-size="30.0" fill="#333338" textLength="171.4" lengthAdjust="spacingAndGlyphs" stroke="#333338" stroke-width="0.70">with ice caps</text>
<text x="188.9" y="996.2" font-family="'Liberation Sans', Arial, sans-serif" font-weight="normal" font-size="30.0" fill="#333338" textLength="123.1" lengthAdjust="spacingAndGlyphs" stroke="#333338" stroke-width="0.70">continent</text>
<text x="190.66" y="1046.00" font-family="'Liberation Sans', Arial, sans-serif" font-weight="normal" font-size="33.24" fill="#333338" stroke="#333338" stroke-width="0.70" textLength="97.59" lengthAdjust="spacingAndGlyphs">ice-cap</text>
<text x="190.1" y="1095.0" font-family="'Liberation Sans', Arial, sans-serif" font-weight="normal" font-size="30.0" fill="#333338" textLength="82.9" lengthAdjust="spacingAndGlyphs" stroke="#333338" stroke-width="0.70">ocean</text>
<text x="477.10" y="243.20" font-family="'Liberation Sans', Arial, sans-serif" font-weight="normal" font-size="29.68" fill="#333338" stroke="#333338" stroke-width="0.70" textLength="50.86" lengthAdjust="spacingAndGlyphs">+30</text>
<text x="515.62" y="615.39" font-family="'Liberation Sans', Arial, sans-serif" font-weight="normal" font-size="30.53" fill="#333338" stroke="#333338" stroke-width="0.70" textLength="16.42" lengthAdjust="spacingAndGlyphs">0</text>
<text x="487.10" y="986.91" font-family="'Liberation Sans', Arial, sans-serif" font-weight="normal" font-size="28.83" fill="#333338" stroke="#333338" stroke-width="0.70" textLength="49.34" lengthAdjust="spacingAndGlyphs">–30</text>
<text x="537.57" y="1061.65" font-family="'Liberation Sans', Arial, sans-serif" font-weight="normal" font-size="34.91" fill="#333338" stroke="#333338" stroke-width="0.70" textLength="33.42" lengthAdjust="spacingAndGlyphs">90</text>
<text x="570.93" y="1062.79" font-family="'Liberation Sans', Arial, sans-serif" font-weight="normal" font-size="38.56" fill="#333338" stroke="#333338" stroke-width="0.50" textLength="13.14" lengthAdjust="spacingAndGlyphs">°</text>
<text x="719.12" y="1059.77" font-family="'Liberation Sans', Arial, sans-serif" font-weight="normal" font-size="33.36" fill="#333338" stroke="#333338" stroke-width="0.70" textLength="32.85" lengthAdjust="spacingAndGlyphs">60</text>
<text x="751.81" y="1060.48" font-family="'Liberation Sans', Arial, sans-serif" font-weight="normal" font-size="35.68" fill="#333338" stroke="#333338" stroke-width="0.50" textLength="12.57" lengthAdjust="spacingAndGlyphs">°</text>
<text x="899.78" y="1058.17" font-family="'Liberation Sans', Arial, sans-serif" font-weight="normal" font-size="33.22" fill="#333338" stroke="#333338" stroke-width="0.70" textLength="33.21" lengthAdjust="spacingAndGlyphs">30</text>
<text x="932.45" y="1059.28" font-family="'Liberation Sans', Arial, sans-serif" font-weight="normal" font-size="35.68" fill="#333338" stroke="#333338" stroke-width="0.50" textLength="13.00" lengthAdjust="spacingAndGlyphs">°</text>
<text x="1081.29" y="1056.29" font-family="'Liberation Sans', Arial, sans-serif" font-weight="normal" font-size="30.67" fill="#333338" stroke="#333338" stroke-width="0.70" textLength="15.37" lengthAdjust="spacingAndGlyphs">0</text>
<text x="1097.97" y="1057.52" font-family="'Liberation Sans', Arial, sans-serif" font-weight="normal" font-size="33.15" fill="#333338" stroke="#333338" stroke-width="0.50" textLength="12.85" lengthAdjust="spacingAndGlyphs">°</text>
<text x="773.87" y="1095.91" font-family="'Liberation Sans', Arial, sans-serif" font-weight="normal" font-size="29.12" fill="#333338" stroke="#333338" stroke-width="0.70" textLength="96.77" lengthAdjust="spacingAndGlyphs">latitude</text>
<text x="561.2" y="424.8" font-family="'Liberation Sans', Arial, sans-serif" font-weight="normal" font-size="29.5" fill="#333338" textLength="247.0" lengthAdjust="spacingAndGlyphs" stroke="#333338" stroke-width="0.70">tropical ‘ring world’</text>
<text x="592.62" y="555.40" font-family="'Liberation Sans', Arial, sans-serif" font-weight="bold" font-size="29.82" fill="#333338" stroke="#333338" stroke-width="0.40" textLength="12.32" lengthAdjust="spacingAndGlyphs">1</text>
<text x="593.90" y="703.60" font-family="'Liberation Sans', Arial, sans-serif" font-weight="bold" font-size="30.68" fill="#333338" stroke="#333338" stroke-width="0.40" textLength="15.87" lengthAdjust="spacingAndGlyphs">2</text>
<text x="596.85" y="947.23" font-family="'Liberation Sans', Arial, sans-serif" font-weight="bold" font-size="29.72" fill="#333338" stroke="#333338" stroke-width="0.40" textLength="15.99" lengthAdjust="spacingAndGlyphs">3</text>
<text x="813.0" y="673.5" font-family="'Liberation Sans', Arial, sans-serif" font-weight="normal" font-size="30.0" fill="#333338" textLength="220.7" lengthAdjust="spacingAndGlyphs" stroke="#333338" stroke-width="0.70">Polar ‘cap world’</text>
<text x="872.7" y="709.3" font-family="'Liberation Sans', Arial, sans-serif" font-weight="normal" font-size="30.0" fill="#333338" textLength="99.6" lengthAdjust="spacingAndGlyphs" stroke="#333338" stroke-width="0.70">(no ice)</text>
<text x="726.0" y="838.3" font-family="'Liberation Sans', Arial, sans-serif" font-weight="normal" font-size="30.0" fill="#333338" textLength="347.7" lengthAdjust="spacingAndGlyphs" stroke="#333338" stroke-width="0.70">Polar ‘cap world’ (with ice)</text>
<text transform="translate(507.6 825.6) rotate(-90)" x="-0.07" y="0" font-family="'Liberation Sans', Arial, sans-serif" font-size="30.5" fill="#333338" stroke="#333338" stroke-width="0.7" textLength="448.43" lengthAdjust="spacingAndGlyphs">Average surface temperature (°C)</text>
<text x="1129.31" y="237.49" font-family="'Liberation Sans', Arial, sans-serif" font-weight="normal" font-size="31.24" fill="#333338" stroke="#333338" stroke-width="0.70" textLength="50.65" lengthAdjust="spacingAndGlyphs">+30</text>
<text x="1171.00" y="608.99" font-family="'Liberation Sans', Arial, sans-serif" font-weight="normal" font-size="30.53" fill="#333338" stroke="#333338" stroke-width="0.70" textLength="16.66" lengthAdjust="spacingAndGlyphs">0</text>
<text x="1140.40" y="982.09" font-family="'Liberation Sans', Arial, sans-serif" font-weight="normal" font-size="30.67" fill="#333338" stroke="#333338" stroke-width="0.70" textLength="48.93" lengthAdjust="spacingAndGlyphs">–30</text>
<text x="1190.06" y="1055.69" font-family="'Liberation Sans', Arial, sans-serif" font-weight="normal" font-size="30.53" fill="#333338" stroke="#333338" stroke-width="0.70" textLength="33.64" lengthAdjust="spacingAndGlyphs">90</text>
<text x="1223.11" y="1058.14" font-family="'Liberation Sans', Arial, sans-serif" font-weight="normal" font-size="36.04" fill="#333338" stroke="#333338" stroke-width="0.50" textLength="13.28" lengthAdjust="spacingAndGlyphs">°</text>
<text x="1371.69" y="1054.00" font-family="'Liberation Sans', Arial, sans-serif" font-weight="normal" font-size="30.11" fill="#333338" stroke="#333338" stroke-width="0.70" textLength="33.62" lengthAdjust="spacingAndGlyphs">60</text>
<text x="1404.27" y="1057.49" font-family="'Liberation Sans', Arial, sans-serif" font-weight="normal" font-size="36.40" fill="#333338" stroke="#333338" stroke-width="0.50" textLength="12.85" lengthAdjust="spacingAndGlyphs">°</text>
<text x="1552.26" y="1053.00" font-family="'Liberation Sans', Arial, sans-serif" font-weight="normal" font-size="29.96" fill="#333338" stroke="#333338" stroke-width="0.70" textLength="33.96" lengthAdjust="spacingAndGlyphs">30</text>
<text x="1584.88" y="1057.59" font-family="'Liberation Sans', Arial, sans-serif" font-weight="normal" font-size="38.56" fill="#333338" stroke="#333338" stroke-width="0.50" textLength="14.14" lengthAdjust="spacingAndGlyphs">°</text>
<text x="1732.99" y="1051.61" font-family="'Liberation Sans', Arial, sans-serif" font-weight="normal" font-size="28.69" fill="#333338" stroke="#333338" stroke-width="0.70" textLength="15.49" lengthAdjust="spacingAndGlyphs">0</text>
<text x="1749.26" y="1054.52" font-family="'Liberation Sans', Arial, sans-serif" font-weight="normal" font-size="33.15" fill="#333338" stroke="#333338" stroke-width="0.50" textLength="11.57" lengthAdjust="spacingAndGlyphs">°</text>
<text x="1426.28" y="1091.20" font-family="'Liberation Sans', Arial, sans-serif" font-weight="normal" font-size="29.52" fill="#333338" stroke="#333338" stroke-width="0.70" textLength="96.67" lengthAdjust="spacingAndGlyphs">latitude</text>
<text x="1484.3" y="571.2" font-family="'Liberation Sans', Arial, sans-serif" font-weight="normal" font-size="30.0" fill="#333338" textLength="227.1" lengthAdjust="spacingAndGlyphs" stroke="#333338" stroke-width="0.70">present Northern</text>
<text x="1516.2" y="606.0" font-family="'Liberation Sans', Arial, sans-serif" font-weight="normal" font-size="30.0" fill="#333338" textLength="163.1" lengthAdjust="spacingAndGlyphs" stroke="#333338" stroke-width="0.70">Hemisphere</text>
<text x="1353.0" y="873.2" font-family="'Liberation Sans', Arial, sans-serif" font-weight="normal" font-size="30.0" fill="#333338" textLength="231.6" lengthAdjust="spacingAndGlyphs" stroke="#333338" stroke-width="0.70">present Southern</text>
<text x="1388.4" y="909.4" font-family="'Liberation Sans', Arial, sans-serif" font-weight="normal" font-size="30.0" fill="#333338" textLength="161.9" lengthAdjust="spacingAndGlyphs" stroke="#333338" stroke-width="0.70">Hemisphere</text>
<text x="514.38" y="101.77" font-family="'Liberation Sans', Arial, sans-serif" font-weight="normal" font-size="23.27" fill="#5e6674" stroke="#5e6674" stroke-width="2.40" textLength="28.77" lengthAdjust="spacingAndGlyphs" filter="url(#blur2)">(i)</text>
<text x="1164.79" y="96.16" font-family="'Liberation Sans', Arial, sans-serif" font-weight="normal" font-size="23.81" fill="#5a6270" stroke="#5a6270" stroke-width="2.40" textLength="37.43" lengthAdjust="spacingAndGlyphs" filter="url(#blur2)">(ii)</text>
<g transform="rotate(-0.245 117 1163.7)"><text x="115.9" y="1163.9" font-family="'Liberation Serif', 'Times New Roman', serif" font-weight="bold" font-size="34.0" fill="#3a3a3e" textLength="1171.6" lengthAdjust="spacingAndGlyphs" stroke="#3a3a3e" stroke-width="0.60" style="white-space:pre">21.  Latitudinal location of continent and the Equator–pole temperature gradient</text></g>
</svg>
</body></html>
